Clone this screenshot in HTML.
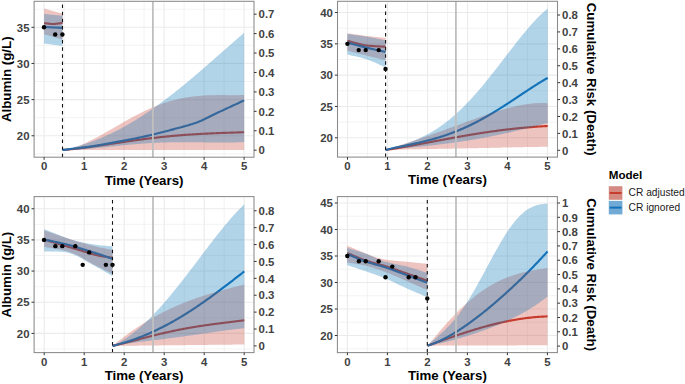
<!DOCTYPE html>
<html><head><meta charset="utf-8"><style>
html,body{margin:0;padding:0;background:#fff;}
svg{display:block;}
text{font-family:"Liberation Sans",sans-serif;}
.tk{font-size:11.4px;font-weight:bold;fill:#424242;}
.ti{font-size:13.3px;font-weight:bold;fill:#000;}
.lt{font-size:11.6px;font-weight:bold;fill:#000;}
.ll{font-size:10.2px;fill:#1a1a1a;}
</style></head><body>
<svg width="685" height="384" viewBox="0 0 685 384">
<rect width="685" height="384" fill="#fff"/>
<clipPath id="cp0"><rect x="34.1" y="1.3" width="219.9" height="155.89999999999998"/></clipPath>
<rect x="34.1" y="1.3" width="219.9" height="155.89999999999998" fill="#fff"/>
<g clip-path="url(#cp0)">
<line x1="64.10" y1="1.3" x2="64.10" y2="157.2" stroke="#ebebeb" stroke-width="0.6"/>
<line x1="104.10" y1="1.3" x2="104.10" y2="157.2" stroke="#ebebeb" stroke-width="0.6"/>
<line x1="144.10" y1="1.3" x2="144.10" y2="157.2" stroke="#ebebeb" stroke-width="0.6"/>
<line x1="184.10" y1="1.3" x2="184.10" y2="157.2" stroke="#ebebeb" stroke-width="0.6"/>
<line x1="224.10" y1="1.3" x2="224.10" y2="157.2" stroke="#ebebeb" stroke-width="0.6"/>
<line x1="34.1" y1="153.83" x2="254.0" y2="153.83" stroke="#ebebeb" stroke-width="0.6"/>
<line x1="34.1" y1="117.67" x2="254.0" y2="117.67" stroke="#ebebeb" stroke-width="0.6"/>
<line x1="34.1" y1="81.53" x2="254.0" y2="81.53" stroke="#ebebeb" stroke-width="0.6"/>
<line x1="34.1" y1="45.38" x2="254.0" y2="45.38" stroke="#ebebeb" stroke-width="0.6"/>
<line x1="34.1" y1="9.22" x2="254.0" y2="9.22" stroke="#ebebeb" stroke-width="0.6"/>
<line x1="44.10" y1="1.3" x2="44.10" y2="157.2" stroke="#ebebeb" stroke-width="1.1"/>
<line x1="84.10" y1="1.3" x2="84.10" y2="157.2" stroke="#ebebeb" stroke-width="1.1"/>
<line x1="124.10" y1="1.3" x2="124.10" y2="157.2" stroke="#ebebeb" stroke-width="1.1"/>
<line x1="164.10" y1="1.3" x2="164.10" y2="157.2" stroke="#ebebeb" stroke-width="1.1"/>
<line x1="204.10" y1="1.3" x2="204.10" y2="157.2" stroke="#ebebeb" stroke-width="1.1"/>
<line x1="244.10" y1="1.3" x2="244.10" y2="157.2" stroke="#ebebeb" stroke-width="1.1"/>
<line x1="34.1" y1="135.75" x2="254.0" y2="135.75" stroke="#ebebeb" stroke-width="1.1"/>
<line x1="34.1" y1="99.60" x2="254.0" y2="99.60" stroke="#ebebeb" stroke-width="1.1"/>
<line x1="34.1" y1="63.45" x2="254.0" y2="63.45" stroke="#ebebeb" stroke-width="1.1"/>
<line x1="34.1" y1="27.30" x2="254.0" y2="27.30" stroke="#ebebeb" stroke-width="1.1"/>
<path d="M44.10,23.10 L45.21,23.22 L46.33,23.37 L47.44,23.52 L48.55,23.66 L49.66,23.79 L50.77,23.90 L51.89,23.97 L53.00,24.00 L54.06,23.97 L55.11,23.90 L56.17,23.80 L57.22,23.66 L58.28,23.51 L59.33,23.35 L60.39,23.19 L61.44,23.03 L62.50,22.90" fill="none" stroke="#c83c2d" stroke-width="2.15" stroke-linejoin="round" stroke-linecap="butt"/>
<path d="M62.60,150.00 L63.60,149.92 L64.60,149.84 L65.60,149.75 L66.60,149.66 L67.60,149.57 L68.60,149.48 L69.60,149.38 L70.60,149.28 L71.60,149.18 L72.60,149.07 L73.60,148.97 L74.60,148.86 L75.60,148.74 L76.60,148.63 L77.60,148.51 L78.60,148.39 L79.60,148.27 L80.60,148.15 L81.60,148.03 L82.60,147.90 L83.60,147.77 L84.60,147.64 L85.60,147.51 L86.60,147.38 L87.60,147.25 L88.60,147.11 L89.60,146.97 L90.60,146.84 L91.60,146.70 L92.60,146.56 L93.60,146.42 L94.60,146.27 L95.60,146.13 L96.60,145.99 L97.60,145.84 L98.60,145.70 L99.60,145.55 L100.60,145.40 L101.60,145.26 L102.60,145.11 L103.60,144.96 L104.60,144.81 L105.60,144.66 L106.60,144.51 L107.60,144.36 L108.60,144.21 L109.60,144.06 L110.60,143.91 L111.60,143.76 L112.60,143.61 L113.60,143.46 L114.60,143.31 L115.60,143.16 L116.60,143.01 L117.60,142.86 L118.60,142.72 L119.60,142.57 L120.60,142.42 L121.60,142.27 L122.60,142.12 L123.60,141.97 L124.60,141.83 L125.60,141.68 L126.60,141.54 L127.60,141.39 L128.60,141.25 L129.60,141.10 L130.60,140.96 L131.60,140.82 L132.60,140.68 L133.60,140.54 L134.60,140.40 L135.60,140.26 L136.60,140.12 L137.60,139.98 L138.60,139.85 L139.60,139.71 L140.60,139.58 L141.60,139.44 L142.60,139.31 L143.60,139.18 L144.60,139.05 L145.60,138.92 L146.60,138.79 L147.60,138.67 L148.60,138.54 L149.60,138.42 L150.60,138.30 L151.60,138.18 L152.60,138.06 L153.60,137.94 L154.60,137.82 L155.60,137.70 L156.60,137.59 L157.60,137.47 L158.60,137.36 L159.60,137.25 L160.60,137.14 L161.60,137.03 L162.60,136.93 L163.60,136.82 L164.60,136.72 L165.60,136.61 L166.60,136.51 L167.60,136.41 L168.60,136.32 L169.60,136.22 L170.60,136.12 L171.60,136.03 L172.60,135.94 L173.60,135.85 L174.60,135.76 L175.60,135.67 L176.60,135.58 L177.60,135.50 L178.60,135.41 L179.60,135.33 L180.60,135.25 L181.60,135.17 L182.60,135.09 L183.60,135.01 L184.60,134.94 L185.60,134.86 L186.60,134.79 L187.60,134.72 L188.60,134.65 L189.60,134.58 L190.60,134.51 L191.60,134.45 L192.60,134.38 L193.60,134.32 L194.60,134.26 L195.60,134.20 L196.60,134.14 L197.60,134.08 L198.60,134.02 L199.60,133.97 L200.60,133.91 L201.60,133.86 L202.60,133.80 L203.60,133.75 L204.60,133.70 L205.60,133.65 L206.60,133.60 L207.60,133.56 L208.60,133.51 L209.60,133.46 L210.60,133.42 L211.60,133.38 L212.60,133.33 L213.60,133.29 L214.60,133.25 L215.60,133.21 L216.60,133.17 L217.60,133.13 L218.60,133.09 L219.60,133.05 L220.60,133.01 L221.60,132.98 L222.60,132.94 L223.60,132.91 L224.60,132.87 L225.60,132.84 L226.60,132.80 L227.60,132.77 L228.60,132.73 L229.60,132.70 L230.60,132.66 L231.60,132.63 L232.60,132.60 L233.60,132.56 L234.60,132.53 L235.60,132.50 L236.60,132.46 L237.60,132.43 L238.60,132.39 L239.60,132.36 L240.60,132.33 L241.60,132.29 L242.60,132.25 L243.60,132.22 L244.10,132.20" fill="none" stroke="#c83c2d" stroke-width="2.15" stroke-linejoin="round" stroke-linecap="butt"/>
<path d="M44.10,27.00 L62.50,27.90" fill="none" stroke="#1471bb" stroke-width="2.15" stroke-linejoin="round" stroke-linecap="butt"/>
<path d="M62.60,150.00 L63.61,149.87 L64.63,149.75 L65.64,149.63 L66.66,149.51 L67.67,149.39 L68.69,149.27 L69.70,149.15 L70.72,149.03 L71.73,148.91 L72.75,148.79 L73.76,148.67 L74.78,148.55 L75.79,148.43 L76.81,148.31 L77.82,148.19 L78.84,148.07 L79.85,147.94 L80.87,147.82 L81.88,147.69 L82.90,147.56 L83.91,147.43 L84.93,147.30 L85.94,147.17 L86.96,147.03 L87.97,146.89 L88.99,146.75 L90.00,146.60 L91.00,146.45 L92.00,146.30 L93.00,146.15 L94.00,145.99 L95.00,145.83 L96.00,145.67 L97.00,145.50 L98.00,145.33 L99.00,145.16 L100.00,144.98 L101.00,144.81 L102.00,144.63 L103.00,144.45 L104.00,144.27 L105.00,144.09 L106.00,143.91 L107.00,143.72 L108.00,143.54 L109.00,143.35 L110.00,143.16 L111.00,142.98 L112.00,142.79 L113.00,142.61 L114.00,142.42 L115.00,142.23 L116.00,142.05 L117.00,141.86 L118.00,141.68 L119.00,141.50 L120.00,141.32 L121.00,141.14 L122.00,140.96 L123.00,140.78 L124.00,140.60 L125.00,140.41 L126.00,140.23 L127.00,140.05 L128.00,139.86 L129.00,139.67 L130.00,139.48 L131.00,139.29 L132.00,139.10 L133.00,138.90 L134.00,138.70 L135.00,138.50 L136.00,138.29 L137.00,138.09 L138.00,137.88 L139.00,137.67 L140.00,137.45 L141.00,137.24 L142.00,137.02 L143.00,136.80 L144.00,136.58 L145.00,136.35 L146.00,136.13 L147.00,135.90 L148.00,135.67 L149.00,135.44 L150.00,135.20 L151.00,134.97 L152.00,134.73 L153.00,134.49 L154.00,134.25 L155.00,134.00 L156.00,133.76 L157.00,133.51 L158.00,133.26 L159.00,133.01 L160.00,132.76 L161.00,132.51 L162.00,132.25 L163.00,132.00 L164.00,131.74 L165.00,131.48 L166.00,131.22 L167.00,130.96 L168.00,130.70 L169.00,130.43 L170.00,130.17 L171.00,129.90 L172.00,129.64 L173.00,129.37 L174.00,129.10 L175.03,128.82 L176.06,128.55 L177.09,128.28 L178.11,128.01 L179.14,127.74 L180.17,127.47 L181.20,127.20 L182.23,126.92 L183.26,126.65 L184.29,126.37 L185.31,126.08 L186.34,125.80 L187.37,125.50 L188.40,125.21 L189.43,124.90 L190.46,124.59 L191.49,124.27 L192.51,123.94 L193.54,123.60 L194.57,123.26 L195.60,122.90 L196.62,122.53 L197.63,122.15 L198.65,121.75 L199.67,121.33 L200.68,120.90 L201.70,120.45 L202.72,120.00 L203.73,119.53 L204.75,119.06 L205.77,118.58 L206.78,118.09 L207.80,117.59 L208.82,117.09 L209.83,116.58 L210.85,116.08 L211.87,115.57 L212.88,115.06 L213.90,114.55 L214.92,114.05 L215.93,113.55 L216.95,113.05 L217.97,112.56 L218.98,112.08 L220.00,111.60 L221.00,111.13 L222.01,110.67 L223.01,110.20 L224.02,109.74 L225.02,109.27 L226.03,108.80 L227.03,108.34 L228.03,107.87 L229.04,107.40 L230.04,106.94 L231.05,106.47 L232.05,106.00 L233.05,105.54 L234.06,105.07 L235.06,104.60 L236.07,104.13 L237.07,103.67 L238.07,103.20 L239.08,102.73 L240.08,102.27 L241.09,101.80 L242.09,101.33 L243.10,100.87 L244.10,100.40" fill="none" stroke="#1471bb" stroke-width="2.15" stroke-linejoin="round" stroke-linecap="butt"/>
<path d="M44.10,8.50 L62.50,13.80 L62.50,39.60 L44.10,34.30 Z" fill="#c83c2d" fill-opacity="0.3"/>
<path d="M62.60,150.00 L63.60,149.88 L64.60,149.73 L65.60,149.57 L66.60,149.39 L67.60,149.19 L68.60,148.97 L69.60,148.74 L70.60,148.48 L71.60,148.22 L72.60,147.93 L73.60,147.63 L74.60,147.32 L75.60,146.99 L76.60,146.65 L77.60,146.29 L78.60,145.92 L79.60,145.54 L80.60,145.14 L81.60,144.74 L82.60,144.32 L83.60,143.89 L84.60,143.45 L85.60,143.00 L86.60,142.55 L87.60,142.08 L88.60,141.60 L89.60,141.12 L90.60,140.62 L91.60,140.12 L92.60,139.61 L93.60,139.10 L94.60,138.58 L95.60,138.05 L96.60,137.51 L97.60,136.98 L98.60,136.43 L99.60,135.88 L100.60,135.33 L101.60,134.77 L102.60,134.21 L103.60,133.65 L104.60,133.08 L105.60,132.51 L106.60,131.94 L107.60,131.36 L108.60,130.78 L109.60,130.21 L110.60,129.63 L111.60,129.05 L112.60,128.46 L113.60,127.88 L114.60,127.30 L115.60,126.72 L116.60,126.14 L117.60,125.56 L118.60,124.98 L119.60,124.40 L120.60,123.83 L121.60,123.25 L122.60,122.68 L123.60,122.11 L124.60,121.54 L125.60,120.98 L126.60,120.42 L127.60,119.86 L128.60,119.30 L129.60,118.75 L130.60,118.20 L131.60,117.65 L132.60,117.11 L133.60,116.58 L134.60,116.05 L135.60,115.52 L136.60,115.00 L137.60,114.48 L138.60,113.97 L139.60,113.46 L140.60,112.96 L141.60,112.46 L142.60,111.97 L143.60,111.49 L144.60,111.01 L145.60,110.54 L146.60,110.07 L147.60,109.61 L148.60,109.16 L149.60,108.71 L150.60,108.27 L151.60,107.84 L152.60,107.42 L153.60,107.00 L154.60,106.58 L155.60,106.18 L156.60,105.78 L157.60,105.39 L158.60,105.01 L159.60,104.63 L160.60,104.27 L161.60,103.91 L162.60,103.55 L163.60,103.21 L164.60,102.87 L165.60,102.54 L166.60,102.22 L167.60,101.90 L168.60,101.60 L169.60,101.30 L170.60,101.01 L171.60,100.72 L172.60,100.45 L173.60,100.18 L174.60,99.92 L175.60,99.67 L176.60,99.42 L177.60,99.19 L178.60,98.96 L179.60,98.74 L180.60,98.52 L181.60,98.32 L182.60,98.12 L183.60,97.93 L184.60,97.74 L185.60,97.56 L186.60,97.39 L187.60,97.23 L188.60,97.08 L189.60,96.93 L190.60,96.79 L191.60,96.65 L192.60,96.52 L193.60,96.40 L194.60,96.29 L195.60,96.18 L196.60,96.08 L197.60,95.98 L198.60,95.89 L199.60,95.80 L200.60,95.73 L201.60,95.65 L202.60,95.59 L203.60,95.52 L204.60,95.47 L205.60,95.41 L206.60,95.37 L207.60,95.32 L208.60,95.29 L209.60,95.25 L210.60,95.22 L211.60,95.20 L212.60,95.17 L213.60,95.15 L214.60,95.14 L215.60,95.13 L216.60,95.12 L217.60,95.11 L218.60,95.10 L219.60,95.10 L220.60,95.10 L221.60,95.10 L222.60,95.11 L223.60,95.11 L224.60,95.12 L225.60,95.12 L226.60,95.13 L227.60,95.13 L228.60,95.14 L229.60,95.15 L230.60,95.15 L231.60,95.16 L232.60,95.16 L233.60,95.16 L234.60,95.16 L235.60,95.16 L236.60,95.15 L237.60,95.15 L238.60,95.14 L239.60,95.12 L240.60,95.10 L241.60,95.08 L242.60,95.06 L243.60,95.02 L244.10,95.01 L244.10,150.00 L243.10,150.00 L242.10,150.00 L241.10,150.00 L240.10,150.00 L239.10,150.00 L238.10,149.99 L237.09,149.99 L236.09,149.99 L235.09,149.99 L234.09,149.99 L233.09,149.99 L232.09,149.99 L231.09,149.99 L230.09,149.99 L229.09,149.99 L228.09,149.99 L227.09,149.98 L226.09,149.98 L225.08,149.98 L224.08,149.98 L223.08,149.98 L222.08,149.98 L221.08,149.98 L220.08,149.98 L219.08,149.98 L218.08,149.98 L217.08,149.97 L216.08,149.97 L215.08,149.97 L214.08,149.97 L213.08,149.97 L212.07,149.97 L211.07,149.97 L210.07,149.97 L209.07,149.97 L208.07,149.97 L207.07,149.96 L206.07,149.96 L205.07,149.96 L204.07,149.96 L203.07,149.96 L202.07,149.96 L201.07,149.96 L200.06,149.96 L199.06,149.96 L198.06,149.95 L197.06,149.95 L196.06,149.95 L195.06,149.95 L194.06,149.95 L193.06,149.95 L192.06,149.95 L191.06,149.95 L190.06,149.95 L189.06,149.95 L188.06,149.94 L187.05,149.94 L186.05,149.94 L185.05,149.94 L184.05,149.94 L183.05,149.94 L182.05,149.94 L181.05,149.94 L180.05,149.94 L179.05,149.94 L178.05,149.93 L177.05,149.93 L176.05,149.93 L175.04,149.93 L174.04,149.93 L173.04,149.93 L172.04,149.93 L171.04,149.93 L170.04,149.93 L169.04,149.93 L168.04,149.92 L167.04,149.92 L166.04,149.92 L165.04,149.92 L164.04,149.92 L163.04,149.92 L162.03,149.92 L161.03,149.92 L160.03,149.92 L159.03,149.92 L158.03,149.92 L157.03,149.92 L156.03,149.91 L155.03,149.91 L154.03,149.91 L153.03,149.91 L152.03,149.91 L151.03,149.91 L150.02,149.91 L149.02,149.91 L148.02,149.91 L147.02,149.91 L146.02,149.91 L145.02,149.91 L144.02,149.91 L143.02,149.91 L142.02,149.91 L141.02,149.91 L140.02,149.91 L139.02,149.90 L138.02,149.90 L137.01,149.90 L136.01,149.90 L135.01,149.90 L134.01,149.90 L133.01,149.90 L132.01,149.90 L131.01,149.90 L130.01,149.90 L129.01,149.90 L128.01,149.90 L127.01,149.90 L126.01,149.90 L125.00,149.90 L124.00,149.90 L123.00,149.90 L122.00,149.90 L121.00,149.90 L120.00,149.90 L119.00,149.90 L117.99,149.90 L116.99,149.90 L115.98,149.90 L114.97,149.90 L113.96,149.90 L112.96,149.90 L111.95,149.90 L110.94,149.90 L109.94,149.90 L108.93,149.91 L107.92,149.91 L106.91,149.91 L105.91,149.91 L104.90,149.91 L103.89,149.91 L102.89,149.91 L101.88,149.92 L100.87,149.92 L99.86,149.92 L98.86,149.92 L97.85,149.92 L96.84,149.92 L95.84,149.93 L94.83,149.93 L93.82,149.93 L92.81,149.93 L91.81,149.94 L90.80,149.94 L89.79,149.94 L88.79,149.94 L87.78,149.94 L86.77,149.95 L85.76,149.95 L84.76,149.95 L83.75,149.95 L82.74,149.96 L81.74,149.96 L80.73,149.96 L79.72,149.96 L78.71,149.97 L77.71,149.97 L76.70,149.97 L75.69,149.97 L74.69,149.97 L73.68,149.98 L72.67,149.98 L71.66,149.98 L70.66,149.98 L69.65,149.99 L68.64,149.99 L67.64,149.99 L66.63,149.99 L65.62,149.99 L64.61,150.00 L63.61,150.00 L62.60,150.00 Z" fill="#c83c2d" fill-opacity="0.3"/>
<path d="M44.10,14.10 L62.50,15.80 L62.50,45.90 L44.10,43.50 Z" fill="#0f78b9" fill-opacity="0.32"/>
<path d="M62.60,150.00 L63.60,149.79 L64.60,149.57 L65.60,149.35 L66.60,149.12 L67.60,148.89 L68.60,148.65 L69.60,148.41 L70.60,148.16 L71.60,147.90 L72.60,147.64 L73.60,147.38 L74.60,147.11 L75.60,146.83 L76.60,146.55 L77.60,146.27 L78.60,145.98 L79.60,145.68 L80.60,145.38 L81.60,145.07 L82.60,144.75 L83.60,144.43 L84.60,144.11 L85.60,143.78 L86.60,143.44 L87.60,143.10 L88.60,142.75 L89.60,142.40 L90.60,142.04 L91.60,141.68 L92.60,141.31 L93.60,140.93 L94.60,140.55 L95.60,140.16 L96.60,139.77 L97.60,139.37 L98.60,138.97 L99.60,138.56 L100.60,138.14 L101.60,137.72 L102.60,137.29 L103.60,136.86 L104.60,136.42 L105.60,135.98 L106.60,135.53 L107.60,135.07 L108.60,134.61 L109.60,134.14 L110.60,133.67 L111.60,133.19 L112.60,132.71 L113.60,132.22 L114.60,131.72 L115.60,131.22 L116.60,130.71 L117.60,130.20 L118.60,129.68 L119.60,129.16 L120.60,128.63 L121.60,128.09 L122.60,127.55 L123.60,127.01 L124.60,126.45 L125.60,125.90 L126.60,125.33 L127.60,124.77 L128.60,124.19 L129.60,123.61 L130.60,123.03 L131.60,122.44 L132.60,121.84 L133.60,121.24 L134.60,120.63 L135.60,120.02 L136.60,119.41 L137.60,118.78 L138.60,118.16 L139.60,117.52 L140.60,116.89 L141.60,116.24 L142.60,115.59 L143.60,114.94 L144.60,114.28 L145.60,113.62 L146.60,112.95 L147.60,112.28 L148.60,111.60 L149.60,110.92 L150.60,110.23 L151.60,109.54 L152.60,108.84 L153.60,108.14 L154.60,107.43 L155.60,106.72 L156.60,106.01 L157.60,105.28 L158.60,104.56 L159.60,103.83 L160.60,103.10 L161.60,102.36 L162.60,101.62 L163.60,100.87 L164.60,100.12 L165.60,99.37 L166.60,98.61 L167.60,97.84 L168.60,97.08 L169.60,96.31 L170.60,95.53 L171.60,94.75 L172.60,93.97 L173.60,93.18 L174.60,92.40 L175.60,91.60 L176.60,90.81 L177.60,90.00 L178.60,89.20 L179.60,88.39 L180.60,87.58 L181.60,86.77 L182.60,85.95 L183.60,85.13 L184.60,84.31 L185.60,83.49 L186.60,82.66 L187.60,81.83 L188.60,80.99 L189.60,80.16 L190.60,79.32 L191.60,78.48 L192.60,77.63 L193.60,76.78 L194.60,75.94 L195.60,75.08 L196.60,74.23 L197.60,73.38 L198.60,72.52 L199.60,71.66 L200.60,70.80 L201.60,69.94 L202.60,69.07 L203.60,68.20 L204.60,67.34 L205.60,66.47 L206.60,65.60 L207.60,64.73 L208.60,63.85 L209.60,62.98 L210.60,62.11 L211.60,61.23 L212.60,60.35 L213.60,59.48 L214.60,58.60 L215.60,57.72 L216.60,56.84 L217.60,55.96 L218.60,55.08 L219.60,54.20 L220.60,53.33 L221.60,52.45 L222.60,51.57 L223.60,50.69 L224.60,49.81 L225.60,48.93 L226.60,48.05 L227.60,47.18 L228.60,46.30 L229.60,45.43 L230.60,44.55 L231.60,43.68 L232.60,42.81 L233.60,41.93 L234.60,41.07 L235.60,40.20 L236.60,39.33 L237.60,38.47 L238.60,37.60 L239.60,36.74 L240.60,35.89 L241.60,35.03 L242.60,34.17 L243.60,33.32 L244.10,32.90 L244.10,142.00 L243.60,142.03 L242.60,142.09 L241.60,142.14 L240.60,142.19 L239.60,142.24 L238.60,142.29 L237.60,142.32 L236.60,142.36 L235.60,142.39 L234.60,142.42 L233.60,142.45 L232.60,142.47 L231.60,142.49 L230.60,142.51 L229.60,142.53 L228.60,142.54 L227.60,142.55 L226.60,142.56 L225.60,142.56 L224.60,142.57 L223.60,142.57 L222.60,142.57 L221.60,142.57 L220.60,142.56 L219.60,142.56 L218.60,142.55 L217.60,142.55 L216.60,142.54 L215.60,142.53 L214.60,142.52 L213.60,142.51 L212.60,142.49 L211.60,142.48 L210.60,142.47 L209.60,142.45 L208.60,142.44 L207.60,142.43 L206.60,142.41 L205.60,142.40 L204.60,142.38 L203.60,142.37 L202.60,142.35 L201.60,142.34 L200.60,142.32 L199.60,142.31 L198.60,142.30 L197.60,142.28 L196.60,142.27 L195.60,142.26 L194.60,142.25 L193.60,142.24 L192.60,142.23 L191.60,142.22 L190.60,142.21 L189.60,142.20 L188.60,142.20 L187.60,142.19 L186.60,142.19 L185.60,142.18 L184.60,142.18 L183.60,142.18 L182.60,142.18 L181.60,142.19 L180.60,142.19 L179.60,142.20 L178.60,142.20 L177.60,142.21 L176.60,142.22 L175.60,142.23 L174.60,142.24 L173.60,142.26 L172.60,142.28 L171.60,142.29 L170.60,142.31 L169.60,142.33 L168.60,142.36 L167.60,142.38 L166.60,142.41 L165.60,142.44 L164.60,142.47 L163.60,142.50 L162.60,142.54 L161.60,142.57 L160.60,142.61 L159.60,142.65 L158.60,142.69 L157.60,142.74 L156.60,142.78 L155.60,142.83 L154.60,142.88 L153.60,142.93 L152.60,142.98 L151.60,143.04 L150.60,143.09 L149.60,143.15 L148.60,143.21 L147.60,143.28 L146.60,143.34 L145.60,143.41 L144.60,143.48 L143.60,143.55 L142.60,143.62 L141.60,143.69 L140.60,143.76 L139.60,143.84 L138.60,143.92 L137.60,144.00 L136.60,144.08 L135.60,144.16 L134.60,144.25 L133.60,144.33 L132.60,144.42 L131.60,144.51 L130.60,144.60 L129.60,144.69 L128.60,144.78 L127.60,144.88 L126.60,144.97 L125.60,145.07 L124.60,145.17 L123.60,145.27 L122.60,145.36 L121.60,145.46 L120.60,145.57 L119.60,145.67 L118.60,145.77 L117.60,145.87 L116.60,145.98 L115.60,146.08 L114.60,146.19 L113.60,146.29 L112.60,146.40 L111.60,146.50 L110.60,146.61 L109.60,146.71 L108.60,146.82 L107.60,146.93 L106.60,147.03 L105.60,147.14 L104.60,147.24 L103.60,147.35 L102.60,147.45 L101.60,147.56 L100.60,147.66 L99.60,147.76 L98.60,147.86 L97.60,147.96 L96.60,148.06 L95.60,148.16 L94.60,148.26 L93.60,148.35 L92.60,148.45 L91.60,148.54 L90.60,148.63 L89.60,148.72 L88.60,148.81 L87.60,148.89 L86.60,148.98 L85.60,149.06 L84.60,149.14 L83.60,149.21 L82.60,149.29 L81.60,149.36 L80.60,149.42 L79.60,149.49 L78.60,149.55 L77.60,149.61 L76.60,149.66 L75.60,149.71 L74.60,149.76 L73.60,149.81 L72.60,149.85 L71.60,149.88 L70.60,149.91 L69.60,149.94 L68.60,149.97 L67.60,149.98 L66.60,150.00 L65.60,150.01 L64.60,150.01 L63.60,150.01 L62.60,150.00 Z" fill="#0f78b9" fill-opacity="0.32"/>
<circle cx="44.00" cy="27.30" r="2.2" fill="#000"/>
<circle cx="55.20" cy="34.53" r="2.2" fill="#000"/>
<circle cx="62.40" cy="34.53" r="2.2" fill="#000"/>
<line x1="62.50" y1="157.2" x2="62.50" y2="1.3" stroke="#111" stroke-width="1.1" stroke-dasharray="3.5 3.6"/>
<line x1="152.90" y1="1.3" x2="152.90" y2="157.2" stroke="#bfbfbf" stroke-width="1.8"/>
</g>
<rect x="34.1" y="1.3" width="219.9" height="155.89999999999998" fill="none" stroke="#8a8a8a" stroke-width="1.05"/>
<line x1="31.50" y1="135.75" x2="34.1" y2="135.75" stroke="#333" stroke-width="1"/>
<text x="29.50" y="139.95" class="tk" text-anchor="end">20</text>
<line x1="31.50" y1="99.60" x2="34.1" y2="99.60" stroke="#333" stroke-width="1"/>
<text x="29.50" y="103.80" class="tk" text-anchor="end">25</text>
<line x1="31.50" y1="63.45" x2="34.1" y2="63.45" stroke="#333" stroke-width="1"/>
<text x="29.50" y="67.65" class="tk" text-anchor="end">30</text>
<line x1="31.50" y1="27.30" x2="34.1" y2="27.30" stroke="#333" stroke-width="1"/>
<text x="29.50" y="31.50" class="tk" text-anchor="end">35</text>
<line x1="254.0" y1="150.20" x2="256.60" y2="150.20" stroke="#333" stroke-width="1"/>
<text x="258.60" y="154.40" class="tk">0</text>
<line x1="254.0" y1="130.77" x2="256.60" y2="130.77" stroke="#333" stroke-width="1"/>
<text x="258.60" y="134.97" class="tk">0.1</text>
<line x1="254.0" y1="111.34" x2="256.60" y2="111.34" stroke="#333" stroke-width="1"/>
<text x="258.60" y="115.54" class="tk">0.2</text>
<line x1="254.0" y1="91.91" x2="256.60" y2="91.91" stroke="#333" stroke-width="1"/>
<text x="258.60" y="96.11" class="tk">0.3</text>
<line x1="254.0" y1="72.48" x2="256.60" y2="72.48" stroke="#333" stroke-width="1"/>
<text x="258.60" y="76.68" class="tk">0.4</text>
<line x1="254.0" y1="53.05" x2="256.60" y2="53.05" stroke="#333" stroke-width="1"/>
<text x="258.60" y="57.25" class="tk">0.5</text>
<line x1="254.0" y1="33.62" x2="256.60" y2="33.62" stroke="#333" stroke-width="1"/>
<text x="258.60" y="37.82" class="tk">0.6</text>
<line x1="254.0" y1="14.19" x2="256.60" y2="14.19" stroke="#333" stroke-width="1"/>
<text x="258.60" y="18.39" class="tk">0.7</text>
<line x1="44.10" y1="157.2" x2="44.10" y2="159.80" stroke="#333" stroke-width="1"/>
<text x="44.10" y="170.10" class="tk" text-anchor="middle">0</text>
<line x1="84.10" y1="157.2" x2="84.10" y2="159.80" stroke="#333" stroke-width="1"/>
<text x="84.10" y="170.10" class="tk" text-anchor="middle">1</text>
<line x1="124.10" y1="157.2" x2="124.10" y2="159.80" stroke="#333" stroke-width="1"/>
<text x="124.10" y="170.10" class="tk" text-anchor="middle">2</text>
<line x1="164.10" y1="157.2" x2="164.10" y2="159.80" stroke="#333" stroke-width="1"/>
<text x="164.10" y="170.10" class="tk" text-anchor="middle">3</text>
<line x1="204.10" y1="157.2" x2="204.10" y2="159.80" stroke="#333" stroke-width="1"/>
<text x="204.10" y="170.10" class="tk" text-anchor="middle">4</text>
<line x1="244.10" y1="157.2" x2="244.10" y2="159.80" stroke="#333" stroke-width="1"/>
<text x="244.10" y="170.10" class="tk" text-anchor="middle">5</text>
<text x="144.05" y="184.50" class="ti" text-anchor="middle">Time (Years)</text>
<text transform="translate(10.6,79.25) rotate(-90)" class="ti" text-anchor="middle">Albumin (g/L)</text>
<clipPath id="cp1"><rect x="337.5" y="1.3" width="220.0" height="155.79999999999998"/></clipPath>
<rect x="337.5" y="1.3" width="220.0" height="155.79999999999998" fill="#fff"/>
<g clip-path="url(#cp1)">
<line x1="367.50" y1="1.3" x2="367.50" y2="157.1" stroke="#ebebeb" stroke-width="0.6"/>
<line x1="407.50" y1="1.3" x2="407.50" y2="157.1" stroke="#ebebeb" stroke-width="0.6"/>
<line x1="447.50" y1="1.3" x2="447.50" y2="157.1" stroke="#ebebeb" stroke-width="0.6"/>
<line x1="487.50" y1="1.3" x2="487.50" y2="157.1" stroke="#ebebeb" stroke-width="0.6"/>
<line x1="527.50" y1="1.3" x2="527.50" y2="157.1" stroke="#ebebeb" stroke-width="0.6"/>
<line x1="337.5" y1="153.46" x2="557.5" y2="153.46" stroke="#ebebeb" stroke-width="0.6"/>
<line x1="337.5" y1="122.14" x2="557.5" y2="122.14" stroke="#ebebeb" stroke-width="0.6"/>
<line x1="337.5" y1="90.81" x2="557.5" y2="90.81" stroke="#ebebeb" stroke-width="0.6"/>
<line x1="337.5" y1="59.49" x2="557.5" y2="59.49" stroke="#ebebeb" stroke-width="0.6"/>
<line x1="337.5" y1="28.16" x2="557.5" y2="28.16" stroke="#ebebeb" stroke-width="0.6"/>
<line x1="347.50" y1="1.3" x2="347.50" y2="157.1" stroke="#ebebeb" stroke-width="1.1"/>
<line x1="387.50" y1="1.3" x2="387.50" y2="157.1" stroke="#ebebeb" stroke-width="1.1"/>
<line x1="427.50" y1="1.3" x2="427.50" y2="157.1" stroke="#ebebeb" stroke-width="1.1"/>
<line x1="467.50" y1="1.3" x2="467.50" y2="157.1" stroke="#ebebeb" stroke-width="1.1"/>
<line x1="507.50" y1="1.3" x2="507.50" y2="157.1" stroke="#ebebeb" stroke-width="1.1"/>
<line x1="547.50" y1="1.3" x2="547.50" y2="157.1" stroke="#ebebeb" stroke-width="1.1"/>
<line x1="337.5" y1="137.80" x2="557.5" y2="137.80" stroke="#ebebeb" stroke-width="1.1"/>
<line x1="337.5" y1="106.47" x2="557.5" y2="106.47" stroke="#ebebeb" stroke-width="1.1"/>
<line x1="337.5" y1="75.15" x2="557.5" y2="75.15" stroke="#ebebeb" stroke-width="1.1"/>
<line x1="337.5" y1="43.83" x2="557.5" y2="43.83" stroke="#ebebeb" stroke-width="1.1"/>
<line x1="337.5" y1="12.50" x2="557.5" y2="12.50" stroke="#ebebeb" stroke-width="1.1"/>
<path d="M347.40,40.90 L348.40,41.14 L349.40,41.39 L350.40,41.66 L351.40,41.93 L352.40,42.20 L353.40,42.48 L354.40,42.76 L355.40,43.04 L356.40,43.32 L357.40,43.59 L358.40,43.86 L359.40,44.11 L360.40,44.36 L361.40,44.59 L362.40,44.81 L363.40,45.01 L364.40,45.19 L365.40,45.35 L366.40,45.49 L367.40,45.60 L368.41,45.70 L369.42,45.78 L370.43,45.87 L371.44,45.94 L372.46,46.01 L373.47,46.08 L374.48,46.14 L375.49,46.20 L376.50,46.26 L377.51,46.31 L378.52,46.36 L379.53,46.41 L380.54,46.47 L381.56,46.52 L382.57,46.57 L383.58,46.63 L384.59,46.69 L385.60,46.75" fill="none" stroke="#c83c2d" stroke-width="2.15" stroke-linejoin="round" stroke-linecap="butt"/>
<path d="M385.60,150.00 L386.60,149.85 L387.60,149.70 L388.60,149.54 L389.60,149.39 L390.60,149.23 L391.60,149.07 L392.60,148.91 L393.60,148.74 L394.60,148.58 L395.60,148.42 L396.60,148.25 L397.60,148.08 L398.60,147.91 L399.60,147.74 L400.60,147.57 L401.60,147.39 L402.60,147.22 L403.60,147.04 L404.60,146.87 L405.60,146.69 L406.60,146.51 L407.60,146.33 L408.60,146.15 L409.60,145.97 L410.60,145.79 L411.60,145.61 L412.60,145.42 L413.60,145.24 L414.60,145.05 L415.60,144.87 L416.60,144.68 L417.60,144.50 L418.60,144.31 L419.60,144.12 L420.60,143.94 L421.60,143.75 L422.60,143.56 L423.60,143.37 L424.60,143.18 L425.60,142.99 L426.60,142.80 L427.60,142.61 L428.60,142.42 L429.60,142.23 L430.60,142.04 L431.60,141.86 L432.60,141.67 L433.60,141.48 L434.60,141.29 L435.60,141.10 L436.60,140.91 L437.60,140.72 L438.60,140.53 L439.60,140.34 L440.60,140.15 L441.60,139.96 L442.60,139.78 L443.60,139.59 L444.60,139.40 L445.60,139.21 L446.60,139.03 L447.60,138.84 L448.60,138.66 L449.60,138.47 L450.60,138.29 L451.60,138.10 L452.60,137.92 L453.60,137.74 L454.60,137.56 L455.60,137.38 L456.60,137.20 L457.60,137.02 L458.60,136.84 L459.60,136.66 L460.60,136.48 L461.60,136.31 L462.60,136.13 L463.60,135.96 L464.60,135.78 L465.60,135.61 L466.60,135.44 L467.60,135.27 L468.60,135.10 L469.60,134.93 L470.60,134.76 L471.60,134.59 L472.60,134.43 L473.60,134.26 L474.60,134.10 L475.60,133.94 L476.60,133.78 L477.60,133.62 L478.60,133.46 L479.60,133.30 L480.60,133.14 L481.60,132.99 L482.60,132.83 L483.60,132.68 L484.60,132.53 L485.60,132.38 L486.60,132.23 L487.60,132.08 L488.60,131.94 L489.60,131.79 L490.60,131.65 L491.60,131.51 L492.60,131.36 L493.60,131.23 L494.60,131.09 L495.60,130.95 L496.60,130.82 L497.60,130.68 L498.60,130.55 L499.60,130.42 L500.60,130.29 L501.60,130.16 L502.60,130.04 L503.60,129.91 L504.60,129.79 L505.60,129.67 L506.60,129.55 L507.60,129.43 L508.60,129.31 L509.60,129.20 L510.60,129.08 L511.60,128.97 L512.60,128.86 L513.60,128.75 L514.60,128.64 L515.60,128.54 L516.60,128.43 L517.60,128.33 L518.60,128.23 L519.60,128.13 L520.60,128.03 L521.60,127.93 L522.60,127.84 L523.60,127.75 L524.60,127.66 L525.60,127.57 L526.60,127.48 L527.60,127.39 L528.60,127.31 L529.60,127.22 L530.60,127.14 L531.60,127.06 L532.60,126.98 L533.60,126.91 L534.60,126.83 L535.60,126.76 L536.60,126.69 L537.60,126.62 L538.60,126.55 L539.60,126.48 L540.60,126.42 L541.60,126.35 L542.60,126.29 L543.60,126.23 L544.60,126.17 L545.60,126.11 L546.60,126.06 L547.60,126.00 L547.70,126.00" fill="none" stroke="#c83c2d" stroke-width="2.15" stroke-linejoin="round" stroke-linecap="butt"/>
<path d="M347.40,42.60 L348.40,42.87 L349.40,43.13 L350.40,43.40 L351.40,43.67 L352.40,43.95 L353.40,44.22 L354.40,44.49 L355.40,44.76 L356.40,45.03 L357.40,45.30 L358.40,45.57 L359.40,45.84 L360.40,46.11 L361.40,46.37 L362.40,46.64 L363.40,46.90 L364.40,47.15 L365.40,47.41 L366.40,47.65 L367.40,47.90 L368.41,48.14 L369.42,48.38 L370.43,48.62 L371.44,48.86 L372.46,49.09 L373.47,49.32 L374.48,49.54 L375.49,49.77 L376.50,49.99 L377.51,50.21 L378.52,50.44 L379.53,50.66 L380.54,50.88 L381.56,51.10 L382.57,51.32 L383.58,51.55 L384.59,51.77 L385.60,52.00" fill="none" stroke="#1471bb" stroke-width="2.15" stroke-linejoin="round" stroke-linecap="butt"/>
<path d="M385.60,150.00 L386.60,149.75 L387.60,149.50 L388.60,149.25 L389.60,149.01 L390.60,148.78 L391.60,148.54 L392.60,148.31 L393.60,148.09 L394.60,147.86 L395.60,147.64 L396.60,147.42 L397.60,147.20 L398.60,146.99 L399.60,146.77 L400.60,146.56 L401.60,146.35 L402.60,146.14 L403.60,145.93 L404.60,145.72 L405.60,145.51 L406.60,145.30 L407.60,145.09 L408.60,144.88 L409.60,144.66 L410.60,144.45 L411.60,144.24 L412.60,144.02 L413.60,143.81 L414.60,143.59 L415.60,143.37 L416.60,143.15 L417.60,142.93 L418.60,142.70 L419.60,142.47 L420.60,142.24 L421.60,142.01 L422.60,141.77 L423.60,141.53 L424.60,141.29 L425.60,141.04 L426.60,140.80 L427.60,140.54 L428.60,140.29 L429.60,140.03 L430.60,139.76 L431.60,139.49 L432.60,139.22 L433.60,138.94 L434.60,138.66 L435.60,138.38 L436.60,138.08 L437.60,137.79 L438.60,137.49 L439.60,137.18 L440.60,136.87 L441.60,136.56 L442.60,136.24 L443.60,135.91 L444.60,135.58 L445.60,135.25 L446.60,134.91 L447.60,134.56 L448.60,134.21 L449.60,133.85 L450.60,133.48 L451.60,133.11 L452.60,132.74 L453.60,132.36 L454.60,131.97 L455.60,131.58 L456.60,131.18 L457.60,130.78 L458.60,130.37 L459.60,129.95 L460.60,129.53 L461.60,129.10 L462.60,128.67 L463.60,128.23 L464.60,127.78 L465.60,127.33 L466.60,126.87 L467.60,126.41 L468.60,125.94 L469.60,125.46 L470.60,124.98 L471.60,124.49 L472.60,124.00 L473.60,123.50 L474.60,123.00 L475.60,122.49 L476.60,121.97 L477.60,121.45 L478.60,120.92 L479.60,120.39 L480.60,119.85 L481.60,119.31 L482.60,118.76 L483.60,118.21 L484.60,117.65 L485.60,117.08 L486.60,116.51 L487.60,115.94 L488.60,115.36 L489.60,114.78 L490.60,114.19 L491.60,113.60 L492.60,113.00 L493.60,112.40 L494.60,111.79 L495.60,111.18 L496.60,110.57 L497.60,109.95 L498.60,109.33 L499.60,108.70 L500.60,108.08 L501.60,107.44 L502.60,106.81 L503.60,106.17 L504.60,105.53 L505.60,104.89 L506.60,104.24 L507.60,103.59 L508.60,102.94 L509.60,102.29 L510.60,101.63 L511.60,100.97 L512.60,100.31 L513.60,99.65 L514.60,98.99 L515.60,98.33 L516.60,97.67 L517.60,97.00 L518.60,96.34 L519.60,95.67 L520.60,95.01 L521.60,94.34 L522.60,93.68 L523.60,93.02 L524.60,92.35 L525.60,91.69 L526.60,91.03 L527.60,90.37 L528.60,89.71 L529.60,89.06 L530.60,88.40 L531.60,87.75 L532.60,87.10 L533.60,86.46 L534.60,85.81 L535.60,85.17 L536.60,84.54 L537.60,83.91 L538.60,83.28 L539.60,82.66 L540.60,82.04 L541.60,81.43 L542.60,80.82 L543.60,80.22 L544.60,79.62 L545.60,79.03 L546.60,78.45 L547.60,77.87 L547.70,77.81" fill="none" stroke="#1471bb" stroke-width="2.15" stroke-linejoin="round" stroke-linecap="butt"/>
<path d="M347.40,33.30 L348.40,33.44 L349.40,33.57 L350.40,33.71 L351.40,33.85 L352.40,33.99 L353.40,34.13 L354.40,34.27 L355.40,34.41 L356.40,34.55 L357.40,34.69 L358.40,34.82 L359.40,34.96 L360.40,35.10 L361.40,35.23 L362.40,35.36 L363.40,35.50 L364.40,35.63 L365.40,35.75 L366.40,35.88 L367.40,36.00 L368.41,36.12 L369.42,36.24 L370.43,36.36 L371.44,36.47 L372.46,36.58 L373.47,36.70 L374.48,36.81 L375.49,36.92 L376.50,37.03 L377.51,37.13 L378.52,37.24 L379.53,37.35 L380.54,37.46 L381.56,37.56 L382.57,37.67 L383.58,37.78 L384.59,37.89 L385.60,38.00 L385.60,60.20 L384.59,59.96 L383.58,59.71 L382.57,59.47 L381.56,59.22 L380.54,58.98 L379.53,58.74 L378.52,58.49 L377.51,58.25 L376.50,58.01 L375.49,57.76 L374.48,57.52 L373.47,57.27 L372.46,57.03 L371.44,56.78 L370.43,56.54 L369.42,56.29 L368.41,56.05 L367.40,55.80 L366.40,55.56 L365.40,55.31 L364.40,55.06 L363.40,54.82 L362.40,54.57 L361.40,54.32 L360.40,54.08 L359.40,53.83 L358.40,53.58 L357.40,53.33 L356.40,53.08 L355.40,52.84 L354.40,52.59 L353.40,52.34 L352.40,52.09 L351.40,51.84 L350.40,51.59 L349.40,51.35 L348.40,51.10 L347.40,50.85 Z" fill="#c83c2d" fill-opacity="0.3"/>
<path d="M385.60,150.00 L386.60,149.67 L387.60,149.34 L388.60,149.01 L389.60,148.68 L390.60,148.35 L391.60,148.02 L392.60,147.69 L393.60,147.36 L394.60,147.03 L395.60,146.71 L396.60,146.38 L397.60,146.05 L398.60,145.72 L399.60,145.39 L400.60,145.06 L401.60,144.73 L402.60,144.40 L403.60,144.07 L404.60,143.74 L405.60,143.41 L406.60,143.08 L407.60,142.75 L408.60,142.42 L409.60,142.09 L410.60,141.75 L411.60,141.42 L412.60,141.08 L413.60,140.75 L414.60,140.41 L415.60,140.07 L416.60,139.74 L417.60,139.40 L418.60,139.06 L419.60,138.72 L420.60,138.37 L421.60,138.03 L422.60,137.69 L423.60,137.34 L424.60,137.00 L425.60,136.65 L426.60,136.31 L427.60,135.96 L428.60,135.61 L429.60,135.26 L430.60,134.91 L431.60,134.56 L432.60,134.20 L433.60,133.85 L434.60,133.50 L435.60,133.14 L436.60,132.78 L437.60,132.43 L438.60,132.07 L439.60,131.71 L440.60,131.35 L441.60,130.99 L442.60,130.63 L443.60,130.27 L444.60,129.91 L445.60,129.54 L446.60,129.18 L447.60,128.81 L448.60,128.45 L449.60,128.08 L450.60,127.72 L451.60,127.35 L452.60,126.98 L453.60,126.62 L454.60,126.25 L455.60,125.88 L456.60,125.51 L457.60,125.14 L458.60,124.77 L459.60,124.41 L460.60,124.04 L461.60,123.67 L462.60,123.30 L463.60,122.93 L464.60,122.56 L465.60,122.20 L466.60,121.83 L467.60,121.46 L468.60,121.10 L469.60,120.73 L470.60,120.36 L471.60,120.00 L472.60,119.64 L473.60,119.27 L474.60,118.91 L475.60,118.55 L476.60,118.19 L477.60,117.83 L478.60,117.48 L479.60,117.12 L480.60,116.77 L481.60,116.42 L482.60,116.07 L483.60,115.72 L484.60,115.37 L485.60,115.03 L486.60,114.68 L487.60,114.34 L488.60,114.01 L489.60,113.67 L490.60,113.34 L491.60,113.01 L492.60,112.68 L493.60,112.36 L494.60,112.04 L495.60,111.72 L496.60,111.40 L497.60,111.09 L498.60,110.78 L499.60,110.48 L500.60,110.18 L501.60,109.88 L502.60,109.59 L503.60,109.30 L504.60,109.02 L505.60,108.74 L506.60,108.46 L507.60,108.19 L508.60,107.93 L509.60,107.67 L510.60,107.41 L511.60,107.17 L512.60,106.92 L513.60,106.68 L514.60,106.45 L515.60,106.23 L516.60,106.01 L517.60,105.79 L518.60,105.58 L519.60,105.38 L520.60,105.19 L521.60,105.00 L522.60,104.82 L523.60,104.65 L524.60,104.49 L525.60,104.33 L526.60,104.18 L527.60,104.04 L528.60,103.91 L529.60,103.78 L530.60,103.67 L531.60,103.56 L532.60,103.46 L533.60,103.37 L534.60,103.29 L535.60,103.22 L536.60,103.16 L537.60,103.11 L538.60,103.07 L539.60,103.04 L540.60,103.02 L541.60,103.01 L542.60,103.02 L543.60,103.03 L544.60,103.05 L545.60,103.09 L546.60,103.14 L547.60,103.20 L547.70,103.21 L547.70,146.80 L547.60,146.80 L546.60,146.81 L545.60,146.81 L544.60,146.82 L543.60,146.83 L542.60,146.84 L541.60,146.85 L540.60,146.86 L539.60,146.87 L538.60,146.88 L537.60,146.90 L536.60,146.91 L535.60,146.92 L534.60,146.94 L533.60,146.95 L532.60,146.97 L531.60,146.98 L530.60,147.00 L529.60,147.02 L528.60,147.04 L527.60,147.05 L526.60,147.07 L525.60,147.09 L524.60,147.11 L523.60,147.13 L522.60,147.15 L521.60,147.17 L520.60,147.19 L519.60,147.21 L518.60,147.23 L517.60,147.25 L516.60,147.27 L515.60,147.29 L514.60,147.31 L513.60,147.34 L512.60,147.36 L511.60,147.38 L510.60,147.40 L509.60,147.42 L508.60,147.45 L507.60,147.47 L506.60,147.49 L505.60,147.52 L504.60,147.54 L503.60,147.56 L502.60,147.58 L501.60,147.61 L500.60,147.63 L499.60,147.65 L498.60,147.68 L497.60,147.70 L496.60,147.72 L495.60,147.75 L494.60,147.77 L493.60,147.79 L492.60,147.81 L491.60,147.84 L490.60,147.86 L489.60,147.88 L488.60,147.90 L487.60,147.93 L486.60,147.95 L485.60,147.97 L484.60,147.99 L483.60,148.02 L482.60,148.04 L481.60,148.06 L480.60,148.08 L479.60,148.10 L478.60,148.12 L477.60,148.14 L476.60,148.17 L475.60,148.19 L474.60,148.21 L473.60,148.23 L472.60,148.25 L471.60,148.27 L470.60,148.29 L469.60,148.31 L468.60,148.33 L467.60,148.35 L466.60,148.37 L465.60,148.39 L464.60,148.41 L463.60,148.42 L462.60,148.44 L461.60,148.46 L460.60,148.48 L459.60,148.50 L458.60,148.52 L457.60,148.53 L456.60,148.55 L455.60,148.57 L454.60,148.59 L453.60,148.61 L452.60,148.62 L451.60,148.64 L450.60,148.66 L449.60,148.67 L448.60,148.69 L447.60,148.71 L446.60,148.72 L445.60,148.74 L444.60,148.76 L443.60,148.77 L442.60,148.79 L441.60,148.81 L440.60,148.82 L439.60,148.84 L438.60,148.86 L437.60,148.87 L436.60,148.89 L435.60,148.90 L434.60,148.92 L433.60,148.94 L432.60,148.95 L431.60,148.97 L430.60,148.98 L429.60,149.00 L428.60,149.02 L427.60,149.03 L426.60,149.05 L425.60,149.07 L424.60,149.08 L423.60,149.10 L422.60,149.12 L421.60,149.13 L420.60,149.15 L419.60,149.17 L418.60,149.19 L417.60,149.20 L416.60,149.22 L415.60,149.24 L414.60,149.26 L413.60,149.28 L412.60,149.30 L411.60,149.32 L410.60,149.34 L409.60,149.36 L408.60,149.38 L407.60,149.40 L406.60,149.42 L405.60,149.44 L404.60,149.46 L403.60,149.49 L402.60,149.51 L401.60,149.53 L400.60,149.56 L399.60,149.58 L398.60,149.61 L397.60,149.63 L396.60,149.66 L395.60,149.69 L394.60,149.72 L393.60,149.74 L392.60,149.77 L391.60,149.80 L390.60,149.83 L389.60,149.87 L388.60,149.90 L387.60,149.93 L386.60,149.97 L385.60,150.00 Z" fill="#c83c2d" fill-opacity="0.3"/>
<path d="M347.40,33.90 L348.40,34.04 L349.40,34.19 L350.40,34.33 L351.40,34.47 L352.40,34.61 L353.40,34.74 L354.40,34.88 L355.40,35.02 L356.40,35.16 L357.40,35.30 L358.40,35.44 L359.40,35.58 L360.40,35.72 L361.40,35.87 L362.40,36.02 L363.40,36.17 L364.40,36.32 L365.40,36.48 L366.40,36.64 L367.40,36.80 L368.41,36.97 L369.42,37.15 L370.43,37.33 L371.44,37.51 L372.46,37.70 L373.47,37.89 L374.48,38.09 L375.49,38.29 L376.50,38.49 L377.51,38.69 L378.52,38.89 L379.53,39.10 L380.54,39.30 L381.56,39.50 L382.57,39.71 L383.58,39.91 L384.59,40.10 L385.60,40.30 L385.60,67.40 L384.59,66.96 L383.58,66.51 L382.57,66.06 L381.56,65.59 L380.54,65.13 L379.53,64.66 L378.52,64.19 L377.51,63.73 L376.50,63.26 L375.49,62.81 L374.48,62.36 L373.47,61.92 L372.46,61.49 L371.44,61.08 L370.43,60.68 L369.42,60.30 L368.41,59.94 L367.40,59.60 L366.40,59.28 L365.40,58.97 L364.40,58.68 L363.40,58.39 L362.40,58.12 L361.40,57.85 L360.40,57.59 L359.40,57.33 L358.40,57.08 L357.40,56.84 L356.40,56.60 L355.40,56.36 L354.40,56.12 L353.40,55.88 L352.40,55.64 L351.40,55.40 L350.40,55.16 L349.40,54.91 L348.40,54.66 L347.40,54.40 Z" fill="#0f78b9" fill-opacity="0.32"/>
<path d="M385.60,150.00 L386.60,149.69 L387.60,149.39 L388.60,149.09 L389.60,148.79 L390.60,148.48 L391.60,148.18 L392.60,147.88 L393.60,147.58 L394.60,147.28 L395.60,146.98 L396.60,146.67 L397.60,146.36 L398.60,146.05 L399.60,145.74 L400.60,145.42 L401.60,145.10 L402.60,144.77 L403.60,144.44 L404.60,144.11 L405.60,143.77 L406.60,143.42 L407.60,143.07 L408.60,142.71 L409.60,142.34 L410.60,141.97 L411.60,141.59 L412.60,141.20 L413.60,140.80 L414.60,140.40 L415.60,139.98 L416.60,139.56 L417.60,139.13 L418.60,138.69 L419.60,138.24 L420.60,137.78 L421.60,137.31 L422.60,136.83 L423.60,136.34 L424.60,135.84 L425.60,135.32 L426.60,134.80 L427.60,134.26 L428.60,133.72 L429.60,133.16 L430.60,132.59 L431.60,132.01 L432.60,131.42 L433.60,130.81 L434.60,130.19 L435.60,129.56 L436.60,128.92 L437.60,128.26 L438.60,127.59 L439.60,126.91 L440.60,126.22 L441.60,125.51 L442.60,124.79 L443.60,124.06 L444.60,123.32 L445.60,122.56 L446.60,121.78 L447.60,121.00 L448.60,120.20 L449.60,119.39 L450.60,118.56 L451.60,117.73 L452.60,116.88 L453.60,116.01 L454.60,115.13 L455.60,114.24 L456.60,113.34 L457.60,112.43 L458.60,111.50 L459.60,110.56 L460.60,109.60 L461.60,108.64 L462.60,107.66 L463.60,106.66 L464.60,105.66 L465.60,104.65 L466.60,103.62 L467.60,102.58 L468.60,101.53 L469.60,100.46 L470.60,99.39 L471.60,98.31 L472.60,97.21 L473.60,96.10 L474.60,94.99 L475.60,93.86 L476.60,92.72 L477.60,91.57 L478.60,90.41 L479.60,89.25 L480.60,88.07 L481.60,86.88 L482.60,85.69 L483.60,84.49 L484.60,83.28 L485.60,82.06 L486.60,80.83 L487.60,79.60 L488.60,78.36 L489.60,77.11 L490.60,75.86 L491.60,74.60 L492.60,73.34 L493.60,72.07 L494.60,70.79 L495.60,69.51 L496.60,68.23 L497.60,66.94 L498.60,65.65 L499.60,64.36 L500.60,63.06 L501.60,61.76 L502.60,60.46 L503.60,59.16 L504.60,57.86 L505.60,56.56 L506.60,55.26 L507.60,53.95 L508.60,52.65 L509.60,51.35 L510.60,50.06 L511.60,48.76 L512.60,47.47 L513.60,46.18 L514.60,44.90 L515.60,43.62 L516.60,42.34 L517.60,41.07 L518.60,39.81 L519.60,38.55 L520.60,37.31 L521.60,36.06 L522.60,34.83 L523.60,33.61 L524.60,32.40 L525.60,31.19 L526.60,30.00 L527.60,28.82 L528.60,27.65 L529.60,26.49 L530.60,25.35 L531.60,24.22 L532.60,23.11 L533.60,22.01 L534.60,20.93 L535.60,19.87 L536.60,18.82 L537.60,17.79 L538.60,16.78 L539.60,15.79 L540.60,14.82 L541.60,13.87 L542.60,12.94 L543.60,12.04 L544.60,11.16 L545.60,10.30 L546.60,9.47 L547.60,8.67 L547.70,8.59 L547.70,123.00 L547.60,123.02 L546.60,123.29 L545.60,123.55 L544.60,123.81 L543.60,124.07 L542.60,124.34 L541.60,124.60 L540.60,124.86 L539.60,125.12 L538.60,125.37 L537.60,125.63 L536.60,125.89 L535.60,126.15 L534.60,126.40 L533.60,126.65 L532.60,126.91 L531.60,127.16 L530.60,127.41 L529.60,127.66 L528.60,127.91 L527.60,128.16 L526.60,128.41 L525.60,128.66 L524.60,128.90 L523.60,129.15 L522.60,129.39 L521.60,129.63 L520.60,129.87 L519.60,130.11 L518.60,130.35 L517.60,130.59 L516.60,130.82 L515.60,131.06 L514.60,131.29 L513.60,131.52 L512.60,131.75 L511.60,131.98 L510.60,132.21 L509.60,132.43 L508.60,132.66 L507.60,132.88 L506.60,133.10 L505.60,133.32 L504.60,133.54 L503.60,133.76 L502.60,133.98 L501.60,134.19 L500.60,134.40 L499.60,134.62 L498.60,134.83 L497.60,135.03 L496.60,135.24 L495.60,135.45 L494.60,135.65 L493.60,135.85 L492.60,136.05 L491.60,136.25 L490.60,136.45 L489.60,136.64 L488.60,136.84 L487.60,137.03 L486.60,137.22 L485.60,137.41 L484.60,137.60 L483.60,137.79 L482.60,137.97 L481.60,138.15 L480.60,138.34 L479.60,138.52 L478.60,138.69 L477.60,138.87 L476.60,139.05 L475.60,139.22 L474.60,139.39 L473.60,139.56 L472.60,139.73 L471.60,139.90 L470.60,140.06 L469.60,140.22 L468.60,140.39 L467.60,140.55 L466.60,140.71 L465.60,140.86 L464.60,141.02 L463.60,141.17 L462.60,141.33 L461.60,141.48 L460.60,141.63 L459.60,141.78 L458.60,141.92 L457.60,142.07 L456.60,142.21 L455.60,142.36 L454.60,142.50 L453.60,142.64 L452.60,142.77 L451.60,142.91 L450.60,143.05 L449.60,143.18 L448.60,143.31 L447.60,143.44 L446.60,143.57 L445.60,143.70 L444.60,143.83 L443.60,143.96 L442.60,144.08 L441.60,144.20 L440.60,144.33 L439.60,144.45 L438.60,144.57 L437.60,144.69 L436.60,144.80 L435.60,144.92 L434.60,145.04 L433.60,145.15 L432.60,145.26 L431.60,145.38 L430.60,145.49 L429.60,145.60 L428.60,145.71 L427.60,145.82 L426.60,145.93 L425.60,146.03 L424.60,146.14 L423.60,146.24 L422.60,146.35 L421.60,146.45 L420.60,146.56 L419.60,146.66 L418.60,146.76 L417.60,146.86 L416.60,146.96 L415.60,147.06 L414.60,147.16 L413.60,147.26 L412.60,147.36 L411.60,147.46 L410.60,147.56 L409.60,147.65 L408.60,147.75 L407.60,147.85 L406.60,147.95 L405.60,148.04 L404.60,148.14 L403.60,148.23 L402.60,148.33 L401.60,148.43 L400.60,148.52 L399.60,148.62 L398.60,148.72 L397.60,148.81 L396.60,148.91 L395.60,149.01 L394.60,149.10 L393.60,149.20 L392.60,149.30 L391.60,149.40 L390.60,149.50 L389.60,149.60 L388.60,149.70 L387.60,149.80 L386.60,149.90 L385.60,150.00 Z" fill="#0f78b9" fill-opacity="0.32"/>
<circle cx="347.40" cy="43.83" r="2.2" fill="#000"/>
<circle cx="358.70" cy="50.09" r="2.2" fill="#000"/>
<circle cx="365.70" cy="50.09" r="2.2" fill="#000"/>
<circle cx="378.70" cy="50.09" r="2.2" fill="#000"/>
<circle cx="385.50" cy="68.88" r="2.2" fill="#000"/>
<line x1="385.60" y1="157.1" x2="385.60" y2="1.3" stroke="#111" stroke-width="1.1" stroke-dasharray="3.5 3.6"/>
<line x1="455.90" y1="1.3" x2="455.90" y2="157.1" stroke="#bfbfbf" stroke-width="1.8"/>
</g>
<rect x="337.5" y="1.3" width="220.0" height="155.79999999999998" fill="none" stroke="#8a8a8a" stroke-width="1.05"/>
<line x1="334.90" y1="137.80" x2="337.5" y2="137.80" stroke="#333" stroke-width="1"/>
<text x="332.90" y="142.00" class="tk" text-anchor="end">20</text>
<line x1="334.90" y1="106.47" x2="337.5" y2="106.47" stroke="#333" stroke-width="1"/>
<text x="332.90" y="110.67" class="tk" text-anchor="end">25</text>
<line x1="334.90" y1="75.15" x2="337.5" y2="75.15" stroke="#333" stroke-width="1"/>
<text x="332.90" y="79.35" class="tk" text-anchor="end">30</text>
<line x1="334.90" y1="43.83" x2="337.5" y2="43.83" stroke="#333" stroke-width="1"/>
<text x="332.90" y="48.03" class="tk" text-anchor="end">35</text>
<line x1="334.90" y1="12.50" x2="337.5" y2="12.50" stroke="#333" stroke-width="1"/>
<text x="332.90" y="16.70" class="tk" text-anchor="end">40</text>
<line x1="557.5" y1="150.30" x2="560.10" y2="150.30" stroke="#333" stroke-width="1"/>
<text x="562.10" y="154.50" class="tk">0</text>
<line x1="557.5" y1="133.39" x2="560.10" y2="133.39" stroke="#333" stroke-width="1"/>
<text x="562.10" y="137.59" class="tk">0.1</text>
<line x1="557.5" y1="116.48" x2="560.10" y2="116.48" stroke="#333" stroke-width="1"/>
<text x="562.10" y="120.68" class="tk">0.2</text>
<line x1="557.5" y1="99.57" x2="560.10" y2="99.57" stroke="#333" stroke-width="1"/>
<text x="562.10" y="103.77" class="tk">0.3</text>
<line x1="557.5" y1="82.66" x2="560.10" y2="82.66" stroke="#333" stroke-width="1"/>
<text x="562.10" y="86.86" class="tk">0.4</text>
<line x1="557.5" y1="65.75" x2="560.10" y2="65.75" stroke="#333" stroke-width="1"/>
<text x="562.10" y="69.95" class="tk">0.5</text>
<line x1="557.5" y1="48.84" x2="560.10" y2="48.84" stroke="#333" stroke-width="1"/>
<text x="562.10" y="53.04" class="tk">0.6</text>
<line x1="557.5" y1="31.93" x2="560.10" y2="31.93" stroke="#333" stroke-width="1"/>
<text x="562.10" y="36.13" class="tk">0.7</text>
<line x1="557.5" y1="15.02" x2="560.10" y2="15.02" stroke="#333" stroke-width="1"/>
<text x="562.10" y="19.22" class="tk">0.8</text>
<line x1="347.50" y1="157.1" x2="347.50" y2="159.70" stroke="#333" stroke-width="1"/>
<text x="347.50" y="170.00" class="tk" text-anchor="middle">0</text>
<line x1="387.50" y1="157.1" x2="387.50" y2="159.70" stroke="#333" stroke-width="1"/>
<text x="387.50" y="170.00" class="tk" text-anchor="middle">1</text>
<line x1="427.50" y1="157.1" x2="427.50" y2="159.70" stroke="#333" stroke-width="1"/>
<text x="427.50" y="170.00" class="tk" text-anchor="middle">2</text>
<line x1="467.50" y1="157.1" x2="467.50" y2="159.70" stroke="#333" stroke-width="1"/>
<text x="467.50" y="170.00" class="tk" text-anchor="middle">3</text>
<line x1="507.50" y1="157.1" x2="507.50" y2="159.70" stroke="#333" stroke-width="1"/>
<text x="507.50" y="170.00" class="tk" text-anchor="middle">4</text>
<line x1="547.50" y1="157.1" x2="547.50" y2="159.70" stroke="#333" stroke-width="1"/>
<text x="547.50" y="170.00" class="tk" text-anchor="middle">5</text>
<text x="447.50" y="184.40" class="ti" text-anchor="middle">Time (Years)</text>
<text transform="translate(586.7,79.20) rotate(90)" class="ti" text-anchor="middle">Cumulative Risk (Death)</text>
<clipPath id="cp2"><rect x="34.1" y="196.6" width="219.9" height="156.00000000000003"/></clipPath>
<rect x="34.1" y="196.6" width="219.9" height="156.00000000000003" fill="#fff"/>
<g clip-path="url(#cp2)">
<line x1="64.20" y1="196.6" x2="64.20" y2="352.6" stroke="#ebebeb" stroke-width="0.6"/>
<line x1="104.20" y1="196.6" x2="104.20" y2="352.6" stroke="#ebebeb" stroke-width="0.6"/>
<line x1="144.20" y1="196.6" x2="144.20" y2="352.6" stroke="#ebebeb" stroke-width="0.6"/>
<line x1="184.20" y1="196.6" x2="184.20" y2="352.6" stroke="#ebebeb" stroke-width="0.6"/>
<line x1="224.20" y1="196.6" x2="224.20" y2="352.6" stroke="#ebebeb" stroke-width="0.6"/>
<line x1="34.1" y1="348.98" x2="254.0" y2="348.98" stroke="#ebebeb" stroke-width="0.6"/>
<line x1="34.1" y1="317.82" x2="254.0" y2="317.82" stroke="#ebebeb" stroke-width="0.6"/>
<line x1="34.1" y1="286.66" x2="254.0" y2="286.66" stroke="#ebebeb" stroke-width="0.6"/>
<line x1="34.1" y1="255.49" x2="254.0" y2="255.49" stroke="#ebebeb" stroke-width="0.6"/>
<line x1="34.1" y1="224.33" x2="254.0" y2="224.33" stroke="#ebebeb" stroke-width="0.6"/>
<line x1="44.20" y1="196.6" x2="44.20" y2="352.6" stroke="#ebebeb" stroke-width="1.1"/>
<line x1="84.20" y1="196.6" x2="84.20" y2="352.6" stroke="#ebebeb" stroke-width="1.1"/>
<line x1="124.20" y1="196.6" x2="124.20" y2="352.6" stroke="#ebebeb" stroke-width="1.1"/>
<line x1="164.20" y1="196.6" x2="164.20" y2="352.6" stroke="#ebebeb" stroke-width="1.1"/>
<line x1="204.20" y1="196.6" x2="204.20" y2="352.6" stroke="#ebebeb" stroke-width="1.1"/>
<line x1="244.20" y1="196.6" x2="244.20" y2="352.6" stroke="#ebebeb" stroke-width="1.1"/>
<line x1="34.1" y1="333.40" x2="254.0" y2="333.40" stroke="#ebebeb" stroke-width="1.1"/>
<line x1="34.1" y1="302.24" x2="254.0" y2="302.24" stroke="#ebebeb" stroke-width="1.1"/>
<line x1="34.1" y1="271.07" x2="254.0" y2="271.07" stroke="#ebebeb" stroke-width="1.1"/>
<line x1="34.1" y1="239.91" x2="254.0" y2="239.91" stroke="#ebebeb" stroke-width="1.1"/>
<line x1="34.1" y1="208.75" x2="254.0" y2="208.75" stroke="#ebebeb" stroke-width="1.1"/>
<path d="M44.20,239.60 L45.22,239.90 L46.25,240.21 L47.27,240.51 L48.30,240.81 L49.32,241.12 L50.35,241.42 L51.37,241.73 L52.39,242.03 L53.42,242.34 L54.44,242.64 L55.47,242.95 L56.49,243.25 L57.52,243.56 L58.54,243.86 L59.56,244.17 L60.59,244.47 L61.61,244.77 L62.64,245.08 L63.66,245.38 L64.68,245.69 L65.71,245.99 L66.73,246.29 L67.76,246.60 L68.78,246.90 L69.81,247.20 L70.83,247.50 L71.85,247.80 L72.88,248.10 L73.90,248.40 L74.93,248.70 L75.95,249.00 L76.98,249.30 L78.00,249.60 L79.00,249.89 L80.00,250.20 L81.00,250.50 L82.00,250.81 L83.00,251.13 L84.00,251.44 L85.00,251.76 L86.00,252.08 L87.00,252.39 L88.00,252.71 L89.00,253.02 L90.00,253.32 L91.00,253.63 L92.00,253.92 L93.00,254.21 L94.00,254.48 L95.00,254.75 L96.00,255.01 L97.00,255.25 L98.00,255.48 L99.00,255.70 L100.00,255.90 L101.04,256.09 L102.08,256.28 L103.12,256.45 L104.17,256.61 L105.21,256.76 L106.25,256.91 L107.29,257.06 L108.33,257.20 L109.38,257.35 L110.42,257.50 L111.46,257.64 L112.50,257.80" fill="none" stroke="#c83c2d" stroke-width="2.15" stroke-linejoin="round" stroke-linecap="butt"/>
<path d="M112.60,345.90 L113.60,345.67 L114.60,345.44 L115.60,345.20 L116.60,344.96 L117.60,344.72 L118.60,344.48 L119.60,344.23 L120.60,343.98 L121.60,343.73 L122.60,343.48 L123.60,343.23 L124.60,342.98 L125.60,342.72 L126.60,342.47 L127.60,342.21 L128.60,341.95 L129.60,341.69 L130.60,341.43 L131.60,341.17 L132.60,340.91 L133.60,340.65 L134.60,340.39 L135.60,340.13 L136.60,339.87 L137.60,339.61 L138.60,339.34 L139.60,339.08 L140.60,338.82 L141.60,338.56 L142.60,338.30 L143.60,338.04 L144.60,337.79 L145.60,337.53 L146.60,337.27 L147.60,337.01 L148.60,336.76 L149.60,336.51 L150.60,336.25 L151.60,336.00 L152.60,335.75 L153.60,335.50 L154.60,335.25 L155.60,335.01 L156.60,334.76 L157.60,334.52 L158.60,334.28 L159.60,334.04 L160.60,333.80 L161.60,333.56 L162.60,333.33 L163.60,333.10 L164.60,332.87 L165.60,332.64 L166.60,332.41 L167.60,332.19 L168.60,331.96 L169.60,331.74 L170.60,331.52 L171.60,331.31 L172.60,331.09 L173.60,330.88 L174.60,330.67 L175.60,330.46 L176.60,330.26 L177.60,330.06 L178.60,329.85 L179.60,329.66 L180.60,329.46 L181.60,329.26 L182.60,329.07 L183.60,328.88 L184.60,328.70 L185.60,328.51 L186.60,328.33 L187.60,328.15 L188.60,327.97 L189.60,327.79 L190.60,327.62 L191.60,327.45 L192.60,327.28 L193.60,327.11 L194.60,326.94 L195.60,326.78 L196.60,326.62 L197.60,326.46 L198.60,326.30 L199.60,326.15 L200.60,326.00 L201.60,325.84 L202.60,325.69 L203.60,325.55 L204.60,325.40 L205.60,325.26 L206.60,325.12 L207.60,324.97 L208.60,324.84 L209.60,324.70 L210.60,324.56 L211.60,324.43 L212.60,324.29 L213.60,324.16 L214.60,324.03 L215.60,323.90 L216.60,323.77 L217.60,323.65 L218.60,323.52 L219.60,323.39 L220.60,323.27 L221.60,323.14 L222.60,323.02 L223.60,322.90 L224.60,322.77 L225.60,322.65 L226.60,322.53 L227.60,322.41 L228.60,322.29 L229.60,322.16 L230.60,322.04 L231.60,321.92 L232.60,321.80 L233.60,321.67 L234.60,321.55 L235.60,321.43 L236.60,321.30 L237.60,321.17 L238.60,321.05 L239.60,320.92 L240.60,320.79 L241.60,320.66 L242.60,320.53 L243.60,320.39 L244.30,320.30" fill="none" stroke="#c83c2d" stroke-width="2.15" stroke-linejoin="round" stroke-linecap="butt"/>
<path d="M44.20,239.50 L45.23,239.73 L46.26,239.96 L47.30,240.18 L48.33,240.41 L49.36,240.63 L50.39,240.85 L51.42,241.07 L52.46,241.29 L53.49,241.51 L54.52,241.73 L55.55,241.95 L56.58,242.17 L57.62,242.40 L58.65,242.62 L59.68,242.85 L60.71,243.08 L61.74,243.31 L62.78,243.54 L63.81,243.78 L64.84,244.02 L65.87,244.27 L66.90,244.52 L67.94,244.77 L68.97,245.03 L70.00,245.30 L71.00,245.57 L72.00,245.84 L73.00,246.12 L74.00,246.41 L75.00,246.70 L76.00,247.00 L77.00,247.31 L78.00,247.62 L79.00,247.93 L80.00,248.24 L81.00,248.55 L82.00,248.87 L83.00,249.18 L84.00,249.49 L85.00,249.80 L86.00,250.11 L87.00,250.41 L88.00,250.72 L89.00,251.02 L90.00,251.33 L91.00,251.64 L92.00,251.95 L93.00,252.26 L94.00,252.57 L95.00,252.88 L96.00,253.20 L97.00,253.52 L98.00,253.84 L99.00,254.17 L100.00,254.50 L101.04,254.85 L102.08,255.20 L103.12,255.57 L104.17,255.93 L105.21,256.30 L106.25,256.67 L107.29,257.04 L108.33,257.41 L109.38,257.79 L110.42,258.16 L111.46,258.53 L112.50,258.90" fill="none" stroke="#1471bb" stroke-width="2.15" stroke-linejoin="round" stroke-linecap="butt"/>
<path d="M112.60,345.90 L113.60,345.65 L114.60,345.39 L115.60,345.13 L116.60,344.86 L117.60,344.59 L118.60,344.31 L119.60,344.03 L120.60,343.75 L121.60,343.46 L122.60,343.16 L123.60,342.86 L124.60,342.56 L125.60,342.24 L126.60,341.93 L127.60,341.61 L128.60,341.28 L129.60,340.95 L130.60,340.62 L131.60,340.27 L132.60,339.93 L133.60,339.58 L134.60,339.22 L135.60,338.86 L136.60,338.49 L137.60,338.12 L138.60,337.74 L139.60,337.35 L140.60,336.96 L141.60,336.57 L142.60,336.17 L143.60,335.77 L144.60,335.36 L145.60,334.94 L146.60,334.52 L147.60,334.09 L148.60,333.66 L149.60,333.22 L150.60,332.78 L151.60,332.33 L152.60,331.88 L153.60,331.42 L154.60,330.96 L155.60,330.49 L156.60,330.01 L157.60,329.53 L158.60,329.05 L159.60,328.56 L160.60,328.06 L161.60,327.56 L162.60,327.05 L163.60,326.54 L164.60,326.02 L165.60,325.50 L166.60,324.97 L167.60,324.44 L168.60,323.90 L169.60,323.36 L170.60,322.81 L171.60,322.26 L172.60,321.70 L173.60,321.14 L174.60,320.57 L175.60,319.99 L176.60,319.42 L177.60,318.83 L178.60,318.24 L179.60,317.65 L180.60,317.05 L181.60,316.45 L182.60,315.84 L183.60,315.23 L184.60,314.61 L185.60,313.99 L186.60,313.36 L187.60,312.73 L188.60,312.10 L189.60,311.46 L190.60,310.81 L191.60,310.16 L192.60,309.51 L193.60,308.85 L194.60,308.19 L195.60,307.53 L196.60,306.86 L197.60,306.18 L198.60,305.50 L199.60,304.82 L200.60,304.14 L201.60,303.45 L202.60,302.75 L203.60,302.06 L204.60,301.35 L205.60,300.65 L206.60,299.94 L207.60,299.23 L208.60,298.51 L209.60,297.80 L210.60,297.07 L211.60,296.35 L212.60,295.62 L213.60,294.89 L214.60,294.16 L215.60,293.42 L216.60,292.68 L217.60,291.94 L218.60,291.19 L219.60,290.45 L220.60,289.69 L221.60,288.94 L222.60,288.19 L223.60,287.43 L224.60,286.67 L225.60,285.91 L226.60,285.14 L227.60,284.38 L228.60,283.61 L229.60,282.84 L230.60,282.07 L231.60,281.30 L232.60,280.53 L233.60,279.75 L234.60,278.97 L235.60,278.20 L236.60,277.42 L237.60,276.64 L238.60,275.86 L239.60,275.08 L240.60,274.30 L241.60,273.51 L242.60,272.73 L243.60,271.95 L244.30,271.40" fill="none" stroke="#1471bb" stroke-width="2.15" stroke-linejoin="round" stroke-linecap="butt"/>
<path d="M44.20,230.50 L45.22,230.84 L46.25,231.18 L47.27,231.52 L48.30,231.86 L49.32,232.21 L50.35,232.55 L51.37,232.90 L52.39,233.25 L53.42,233.60 L54.44,233.95 L55.47,234.30 L56.49,234.64 L57.52,234.99 L58.54,235.34 L59.56,235.69 L60.59,236.04 L61.61,236.38 L62.64,236.73 L63.66,237.07 L64.68,237.41 L65.71,237.75 L66.73,238.09 L67.76,238.43 L68.78,238.76 L69.81,239.09 L70.83,239.42 L71.85,239.74 L72.88,240.06 L73.90,240.38 L74.93,240.69 L75.95,241.00 L76.98,241.30 L78.00,241.60 L79.00,241.89 L80.00,242.18 L81.00,242.46 L82.00,242.75 L83.00,243.03 L84.00,243.31 L85.00,243.58 L86.00,243.86 L87.00,244.13 L88.00,244.40 L89.00,244.67 L90.00,244.93 L91.00,245.19 L92.00,245.45 L93.00,245.70 L94.00,245.96 L95.00,246.21 L96.00,246.45 L97.00,246.69 L98.00,246.93 L99.00,247.17 L100.00,247.40 L101.04,247.64 L102.08,247.87 L103.12,248.09 L104.17,248.31 L105.21,248.52 L106.25,248.73 L107.29,248.94 L108.33,249.15 L109.38,249.36 L110.42,249.57 L111.46,249.79 L112.50,250.00 L112.50,273.60 L111.46,273.12 L110.42,272.64 L109.38,272.17 L108.33,271.70 L107.29,271.22 L106.25,270.75 L105.21,270.27 L104.17,269.79 L103.12,269.31 L102.08,268.81 L101.04,268.31 L100.00,267.80 L99.00,267.30 L98.00,266.79 L97.00,266.28 L96.00,265.76 L95.00,265.24 L94.00,264.71 L93.00,264.17 L92.00,263.63 L91.00,263.08 L90.00,262.52 L89.00,261.96 L88.00,261.40 L87.00,260.82 L86.00,260.21 L85.00,259.58 L84.00,258.95 L83.00,258.32 L82.00,257.72 L81.00,257.14 L80.00,256.60 L79.00,256.09 L78.00,255.60 L77.00,255.12 L76.00,254.65 L75.00,254.21 L74.00,253.78 L73.00,253.38 L72.00,253.00 L71.00,252.64 L70.00,252.28 L69.00,251.94 L68.00,251.62 L67.00,251.31 L66.00,251.02 L65.00,250.75 L64.00,250.50 L62.96,250.26 L61.92,250.03 L60.87,249.81 L59.83,249.59 L58.79,249.39 L57.75,249.20 L56.71,249.01 L55.66,248.82 L54.62,248.65 L53.58,248.47 L52.54,248.30 L51.49,248.13 L50.45,247.96 L49.41,247.79 L48.37,247.62 L47.33,247.44 L46.28,247.27 L45.24,247.09 L44.20,246.90 Z" fill="#c83c2d" fill-opacity="0.3"/>
<path d="M112.60,345.90 L113.60,345.07 L114.60,344.24 L115.60,343.43 L116.60,342.62 L117.60,341.81 L118.60,341.01 L119.60,340.22 L120.60,339.44 L121.60,338.66 L122.60,337.89 L123.60,337.13 L124.60,336.37 L125.60,335.62 L126.60,334.88 L127.60,334.15 L128.60,333.42 L129.60,332.69 L130.60,331.98 L131.60,331.27 L132.60,330.57 L133.60,329.87 L134.60,329.18 L135.60,328.50 L136.60,327.82 L137.60,327.15 L138.60,326.49 L139.60,325.83 L140.60,325.18 L141.60,324.54 L142.60,323.90 L143.60,323.27 L144.60,322.65 L145.60,322.03 L146.60,321.42 L147.60,320.81 L148.60,320.21 L149.60,319.62 L150.60,319.03 L151.60,318.45 L152.60,317.88 L153.60,317.31 L154.60,316.75 L155.60,316.19 L156.60,315.64 L157.60,315.10 L158.60,314.56 L159.60,314.03 L160.60,313.50 L161.60,312.98 L162.60,312.47 L163.60,311.96 L164.60,311.46 L165.60,310.96 L166.60,310.47 L167.60,309.98 L168.60,309.50 L169.60,309.03 L170.60,308.56 L171.60,308.09 L172.60,307.63 L173.60,307.18 L174.60,306.73 L175.60,306.29 L176.60,305.85 L177.60,305.42 L178.60,304.99 L179.60,304.57 L180.60,304.15 L181.60,303.73 L182.60,303.32 L183.60,302.92 L184.60,302.52 L185.60,302.13 L186.60,301.74 L187.60,301.35 L188.60,300.97 L189.60,300.59 L190.60,300.22 L191.60,299.85 L192.60,299.49 L193.60,299.13 L194.60,298.77 L195.60,298.42 L196.60,298.07 L197.60,297.73 L198.60,297.39 L199.60,297.05 L200.60,296.72 L201.60,296.39 L202.60,296.06 L203.60,295.74 L204.60,295.42 L205.60,295.11 L206.60,294.79 L207.60,294.48 L208.60,294.18 L209.60,293.87 L210.60,293.57 L211.60,293.27 L212.60,292.98 L213.60,292.69 L214.60,292.40 L215.60,292.11 L216.60,291.82 L217.60,291.54 L218.60,291.26 L219.60,290.98 L220.60,290.70 L221.60,290.43 L222.60,290.15 L223.60,289.88 L224.60,289.61 L225.60,289.35 L226.60,289.08 L227.60,288.81 L228.60,288.55 L229.60,288.29 L230.60,288.03 L231.60,287.76 L232.60,287.50 L233.60,287.25 L234.60,286.99 L235.60,286.73 L236.60,286.47 L237.60,286.22 L238.60,285.96 L239.60,285.70 L240.60,285.45 L241.60,285.19 L242.60,284.94 L243.60,284.68 L244.30,284.50 L244.30,344.50 L243.30,344.51 L242.29,344.52 L241.29,344.53 L240.29,344.54 L239.28,344.55 L238.28,344.56 L237.28,344.57 L236.27,344.59 L235.27,344.60 L234.27,344.61 L233.26,344.62 L232.26,344.63 L231.26,344.64 L230.26,344.65 L229.25,344.66 L228.25,344.67 L227.25,344.68 L226.24,344.69 L225.24,344.70 L224.24,344.71 L223.23,344.72 L222.23,344.73 L221.23,344.74 L220.22,344.76 L219.22,344.77 L218.22,344.78 L217.21,344.79 L216.21,344.80 L215.21,344.81 L214.20,344.82 L213.20,344.83 L212.20,344.84 L211.19,344.85 L210.19,344.86 L209.19,344.87 L208.19,344.88 L207.18,344.89 L206.18,344.90 L205.18,344.91 L204.17,344.93 L203.17,344.94 L202.17,344.95 L201.16,344.96 L200.16,344.97 L199.16,344.98 L198.15,344.99 L197.15,345.00 L196.15,345.01 L195.14,345.02 L194.14,345.03 L193.14,345.04 L192.13,345.05 L191.13,345.06 L190.13,345.07 L189.12,345.08 L188.12,345.10 L187.12,345.11 L186.11,345.12 L185.11,345.13 L184.11,345.14 L183.11,345.15 L182.10,345.16 L181.10,345.17 L180.10,345.18 L179.09,345.19 L178.09,345.20 L177.09,345.21 L176.08,345.22 L175.08,345.23 L174.08,345.24 L173.07,345.25 L172.07,345.27 L171.07,345.28 L170.06,345.29 L169.06,345.30 L168.06,345.31 L167.05,345.32 L166.05,345.33 L165.05,345.34 L164.04,345.35 L163.04,345.36 L162.04,345.37 L161.04,345.38 L160.03,345.39 L159.03,345.40 L158.03,345.41 L157.02,345.43 L156.02,345.44 L155.02,345.45 L154.01,345.46 L153.01,345.47 L152.01,345.48 L151.00,345.49 L150.00,345.50 L148.99,345.51 L147.98,345.52 L146.97,345.53 L145.96,345.54 L144.95,345.55 L143.94,345.56 L142.92,345.58 L141.91,345.59 L140.90,345.60 L139.89,345.61 L138.88,345.62 L137.87,345.63 L136.86,345.64 L135.85,345.65 L134.84,345.66 L133.83,345.67 L132.82,345.68 L131.81,345.69 L130.79,345.71 L129.78,345.72 L128.77,345.73 L127.76,345.74 L126.75,345.75 L125.74,345.76 L124.73,345.77 L123.72,345.78 L122.71,345.79 L121.70,345.80 L120.69,345.81 L119.68,345.82 L118.66,345.84 L117.65,345.85 L116.64,345.86 L115.63,345.87 L114.62,345.88 L113.61,345.89 L112.60,345.90 Z" fill="#c83c2d" fill-opacity="0.3"/>
<path d="M44.20,229.20 L45.22,229.57 L46.25,229.95 L47.27,230.34 L48.30,230.73 L49.32,231.13 L50.35,231.54 L51.37,231.94 L52.39,232.35 L53.42,232.76 L54.44,233.18 L55.47,233.59 L56.49,234.00 L57.52,234.42 L58.54,234.83 L59.56,235.24 L60.59,235.64 L61.61,236.04 L62.64,236.44 L63.66,236.84 L64.68,237.22 L65.71,237.60 L66.73,237.98 L67.76,238.34 L68.78,238.70 L69.81,239.05 L70.83,239.39 L71.85,239.71 L72.88,240.03 L73.90,240.33 L74.93,240.62 L75.95,240.89 L76.98,241.15 L78.00,241.40 L79.00,241.63 L80.00,241.86 L81.00,242.08 L82.00,242.30 L83.00,242.51 L84.00,242.72 L85.00,242.93 L86.00,243.13 L87.00,243.32 L88.00,243.51 L89.00,243.70 L90.00,243.87 L91.00,244.05 L92.00,244.21 L93.00,244.37 L94.00,244.53 L95.00,244.67 L96.00,244.81 L97.00,244.95 L98.00,245.07 L99.00,245.19 L100.00,245.30 L101.04,245.41 L102.08,245.51 L103.12,245.60 L104.17,245.68 L105.21,245.76 L106.25,245.84 L107.29,245.92 L108.33,245.99 L109.38,246.07 L110.42,246.14 L111.46,246.22 L112.50,246.30 L112.50,276.00 L111.46,275.40 L110.42,274.80 L109.38,274.19 L108.33,273.59 L107.29,272.98 L106.25,272.38 L105.21,271.78 L104.17,271.18 L103.12,270.58 L102.08,269.98 L101.04,269.39 L100.00,268.80 L99.00,268.24 L98.00,267.69 L97.00,267.14 L96.00,266.59 L95.00,266.04 L94.00,265.50 L93.00,264.96 L92.00,264.41 L91.00,263.86 L90.00,263.31 L89.00,262.76 L88.00,262.20 L87.00,261.63 L86.00,261.04 L85.00,260.44 L84.00,259.84 L83.00,259.25 L82.00,258.68 L81.00,258.12 L80.00,257.60 L79.00,257.09 L78.00,256.59 L77.00,256.10 L76.00,255.62 L75.00,255.16 L74.00,254.73 L73.00,254.35 L72.00,254.00 L71.00,253.68 L70.00,253.36 L69.00,253.06 L68.00,252.77 L67.00,252.51 L66.00,252.30 L65.00,252.12 L64.00,252.00 L63.00,251.91 L62.00,251.83 L61.00,251.75 L60.00,251.69 L59.00,251.64 L58.00,251.61 L57.00,251.60 L55.93,251.60 L54.87,251.60 L53.80,251.60 L52.73,251.60 L51.67,251.60 L50.60,251.60 L49.53,251.60 L48.47,251.60 L47.40,251.60 L46.33,251.60 L45.27,251.60 L44.20,251.60 Z" fill="#0f78b9" fill-opacity="0.32"/>
<path d="M112.60,345.90 L113.60,345.42 L114.60,344.92 L115.60,344.41 L116.60,343.89 L117.60,343.34 L118.60,342.79 L119.60,342.21 L120.60,341.63 L121.60,341.03 L122.60,340.41 L123.60,339.78 L124.60,339.13 L125.60,338.47 L126.60,337.79 L127.60,337.10 L128.60,336.40 L129.60,335.68 L130.60,334.94 L131.60,334.19 L132.60,333.43 L133.60,332.65 L134.60,331.86 L135.60,331.06 L136.60,330.24 L137.60,329.41 L138.60,328.56 L139.60,327.70 L140.60,326.83 L141.60,325.95 L142.60,325.05 L143.60,324.14 L144.60,323.21 L145.60,322.28 L146.60,321.33 L147.60,320.36 L148.60,319.39 L149.60,318.40 L150.60,317.41 L151.60,316.40 L152.60,315.37 L153.60,314.34 L154.60,313.30 L155.60,312.24 L156.60,311.17 L157.60,310.10 L158.60,309.01 L159.60,307.91 L160.60,306.80 L161.60,305.68 L162.60,304.56 L163.60,303.42 L164.60,302.27 L165.60,301.11 L166.60,299.95 L167.60,298.77 L168.60,297.59 L169.60,296.40 L170.60,295.20 L171.60,293.99 L172.60,292.78 L173.60,291.56 L174.60,290.33 L175.60,289.09 L176.60,287.84 L177.60,286.59 L178.60,285.34 L179.60,284.08 L180.60,282.81 L181.60,281.53 L182.60,280.26 L183.60,278.97 L184.60,277.68 L185.60,276.39 L186.60,275.09 L187.60,273.79 L188.60,272.49 L189.60,271.18 L190.60,269.87 L191.60,268.56 L192.60,267.24 L193.60,265.92 L194.60,264.60 L195.60,263.28 L196.60,261.96 L197.60,260.63 L198.60,259.31 L199.60,257.99 L200.60,256.66 L201.60,255.34 L202.60,254.01 L203.60,252.69 L204.60,251.37 L205.60,250.05 L206.60,248.74 L207.60,247.42 L208.60,246.11 L209.60,244.80 L210.60,243.50 L211.60,242.20 L212.60,240.90 L213.60,239.61 L214.60,238.32 L215.60,237.04 L216.60,235.77 L217.60,234.50 L218.60,233.23 L219.60,231.98 L220.60,230.73 L221.60,229.49 L222.60,228.25 L223.60,227.03 L224.60,225.81 L225.60,224.61 L226.60,223.41 L227.60,222.22 L228.60,221.05 L229.60,219.88 L230.60,218.73 L231.60,217.59 L232.60,216.46 L233.60,215.34 L234.60,214.24 L235.60,213.14 L236.60,212.07 L237.60,211.01 L238.60,209.96 L239.60,208.93 L240.60,207.91 L241.60,206.91 L242.60,205.93 L243.60,204.97 L244.30,204.30 L244.30,328.20 L243.60,328.27 L242.60,328.38 L241.60,328.48 L240.60,328.59 L239.60,328.70 L238.60,328.82 L237.60,328.93 L236.60,329.05 L235.60,329.17 L234.60,329.29 L233.60,329.42 L232.60,329.54 L231.60,329.67 L230.60,329.80 L229.60,329.93 L228.60,330.06 L227.60,330.19 L226.60,330.32 L225.60,330.46 L224.60,330.59 L223.60,330.73 L222.60,330.87 L221.60,331.01 L220.60,331.15 L219.60,331.29 L218.60,331.43 L217.60,331.57 L216.60,331.71 L215.60,331.85 L214.60,331.99 L213.60,332.14 L212.60,332.28 L211.60,332.42 L210.60,332.57 L209.60,332.71 L208.60,332.86 L207.60,333.00 L206.60,333.14 L205.60,333.29 L204.60,333.43 L203.60,333.58 L202.60,333.72 L201.60,333.86 L200.60,334.01 L199.60,334.15 L198.60,334.29 L197.60,334.44 L196.60,334.58 L195.60,334.72 L194.60,334.86 L193.60,335.00 L192.60,335.15 L191.60,335.29 L190.60,335.43 L189.60,335.57 L188.60,335.70 L187.60,335.84 L186.60,335.98 L185.60,336.12 L184.60,336.26 L183.60,336.39 L182.60,336.53 L181.60,336.66 L180.60,336.80 L179.60,336.93 L178.60,337.06 L177.60,337.20 L176.60,337.33 L175.60,337.46 L174.60,337.59 L173.60,337.72 L172.60,337.85 L171.60,337.98 L170.60,338.11 L169.60,338.24 L168.60,338.37 L167.60,338.50 L166.60,338.62 L165.60,338.75 L164.60,338.88 L163.60,339.00 L162.60,339.13 L161.60,339.25 L160.60,339.38 L159.60,339.50 L158.60,339.63 L157.60,339.75 L156.60,339.88 L155.60,340.00 L154.60,340.12 L153.60,340.25 L152.60,340.37 L151.60,340.49 L150.60,340.62 L149.60,340.74 L148.60,340.86 L147.60,340.99 L146.60,341.11 L145.60,341.24 L144.60,341.36 L143.60,341.49 L142.60,341.61 L141.60,341.74 L140.60,341.86 L139.60,341.99 L138.60,342.12 L137.60,342.25 L136.60,342.37 L135.60,342.50 L134.60,342.64 L133.60,342.77 L132.60,342.90 L131.60,343.03 L130.60,343.17 L129.60,343.31 L128.60,343.44 L127.60,343.58 L126.60,343.72 L125.60,343.87 L124.60,344.01 L123.60,344.16 L122.60,344.30 L121.60,344.45 L120.60,344.60 L119.60,344.76 L118.60,344.91 L117.60,345.07 L116.60,345.23 L115.60,345.40 L114.60,345.56 L113.60,345.73 L112.60,345.90 Z" fill="#0f78b9" fill-opacity="0.32"/>
<circle cx="44.00" cy="239.91" r="2.2" fill="#000"/>
<circle cx="55.40" cy="246.14" r="2.2" fill="#000"/>
<circle cx="62.30" cy="246.14" r="2.2" fill="#000"/>
<circle cx="75.30" cy="246.14" r="2.2" fill="#000"/>
<circle cx="82.70" cy="264.84" r="2.2" fill="#000"/>
<circle cx="89.20" cy="252.38" r="2.2" fill="#000"/>
<circle cx="105.90" cy="264.84" r="2.2" fill="#000"/>
<circle cx="112.50" cy="264.84" r="2.2" fill="#000"/>
<line x1="112.50" y1="352.6" x2="112.50" y2="196.6" stroke="#111" stroke-width="1.1" stroke-dasharray="3.5 3.6"/>
<line x1="153.00" y1="196.6" x2="153.00" y2="352.6" stroke="#bfbfbf" stroke-width="1.8"/>
</g>
<rect x="34.1" y="196.6" width="219.9" height="156.00000000000003" fill="none" stroke="#8a8a8a" stroke-width="1.05"/>
<line x1="31.50" y1="333.40" x2="34.1" y2="333.40" stroke="#333" stroke-width="1"/>
<text x="29.50" y="337.60" class="tk" text-anchor="end">20</text>
<line x1="31.50" y1="302.24" x2="34.1" y2="302.24" stroke="#333" stroke-width="1"/>
<text x="29.50" y="306.44" class="tk" text-anchor="end">25</text>
<line x1="31.50" y1="271.07" x2="34.1" y2="271.07" stroke="#333" stroke-width="1"/>
<text x="29.50" y="275.27" class="tk" text-anchor="end">30</text>
<line x1="31.50" y1="239.91" x2="34.1" y2="239.91" stroke="#333" stroke-width="1"/>
<text x="29.50" y="244.11" class="tk" text-anchor="end">35</text>
<line x1="31.50" y1="208.75" x2="34.1" y2="208.75" stroke="#333" stroke-width="1"/>
<text x="29.50" y="212.95" class="tk" text-anchor="end">40</text>
<line x1="254.0" y1="345.90" x2="256.60" y2="345.90" stroke="#333" stroke-width="1"/>
<text x="258.60" y="350.10" class="tk">0</text>
<line x1="254.0" y1="329.01" x2="256.60" y2="329.01" stroke="#333" stroke-width="1"/>
<text x="258.60" y="333.21" class="tk">0.1</text>
<line x1="254.0" y1="312.12" x2="256.60" y2="312.12" stroke="#333" stroke-width="1"/>
<text x="258.60" y="316.32" class="tk">0.2</text>
<line x1="254.0" y1="295.23" x2="256.60" y2="295.23" stroke="#333" stroke-width="1"/>
<text x="258.60" y="299.43" class="tk">0.3</text>
<line x1="254.0" y1="278.34" x2="256.60" y2="278.34" stroke="#333" stroke-width="1"/>
<text x="258.60" y="282.54" class="tk">0.4</text>
<line x1="254.0" y1="261.45" x2="256.60" y2="261.45" stroke="#333" stroke-width="1"/>
<text x="258.60" y="265.65" class="tk">0.5</text>
<line x1="254.0" y1="244.56" x2="256.60" y2="244.56" stroke="#333" stroke-width="1"/>
<text x="258.60" y="248.76" class="tk">0.6</text>
<line x1="254.0" y1="227.67" x2="256.60" y2="227.67" stroke="#333" stroke-width="1"/>
<text x="258.60" y="231.87" class="tk">0.7</text>
<line x1="254.0" y1="210.78" x2="256.60" y2="210.78" stroke="#333" stroke-width="1"/>
<text x="258.60" y="214.98" class="tk">0.8</text>
<line x1="44.20" y1="352.6" x2="44.20" y2="355.20" stroke="#333" stroke-width="1"/>
<text x="44.20" y="365.50" class="tk" text-anchor="middle">0</text>
<line x1="84.20" y1="352.6" x2="84.20" y2="355.20" stroke="#333" stroke-width="1"/>
<text x="84.20" y="365.50" class="tk" text-anchor="middle">1</text>
<line x1="124.20" y1="352.6" x2="124.20" y2="355.20" stroke="#333" stroke-width="1"/>
<text x="124.20" y="365.50" class="tk" text-anchor="middle">2</text>
<line x1="164.20" y1="352.6" x2="164.20" y2="355.20" stroke="#333" stroke-width="1"/>
<text x="164.20" y="365.50" class="tk" text-anchor="middle">3</text>
<line x1="204.20" y1="352.6" x2="204.20" y2="355.20" stroke="#333" stroke-width="1"/>
<text x="204.20" y="365.50" class="tk" text-anchor="middle">4</text>
<line x1="244.20" y1="352.6" x2="244.20" y2="355.20" stroke="#333" stroke-width="1"/>
<text x="244.20" y="365.50" class="tk" text-anchor="middle">5</text>
<text x="144.05" y="379.90" class="ti" text-anchor="middle">Time (Years)</text>
<text transform="translate(10.6,274.60) rotate(-90)" class="ti" text-anchor="middle">Albumin (g/L)</text>
<clipPath id="cp3"><rect x="337.4" y="196.6" width="220.0" height="156.00000000000003"/></clipPath>
<rect x="337.4" y="196.6" width="220.0" height="156.00000000000003" fill="#fff"/>
<g clip-path="url(#cp3)">
<line x1="367.40" y1="196.6" x2="367.40" y2="352.6" stroke="#ebebeb" stroke-width="0.6"/>
<line x1="407.40" y1="196.6" x2="407.40" y2="352.6" stroke="#ebebeb" stroke-width="0.6"/>
<line x1="447.40" y1="196.6" x2="447.40" y2="352.6" stroke="#ebebeb" stroke-width="0.6"/>
<line x1="487.40" y1="196.6" x2="487.40" y2="352.6" stroke="#ebebeb" stroke-width="0.6"/>
<line x1="527.40" y1="196.6" x2="527.40" y2="352.6" stroke="#ebebeb" stroke-width="0.6"/>
<line x1="337.4" y1="348.75" x2="557.4" y2="348.75" stroke="#ebebeb" stroke-width="0.6"/>
<line x1="337.4" y1="322.25" x2="557.4" y2="322.25" stroke="#ebebeb" stroke-width="0.6"/>
<line x1="337.4" y1="295.75" x2="557.4" y2="295.75" stroke="#ebebeb" stroke-width="0.6"/>
<line x1="337.4" y1="269.25" x2="557.4" y2="269.25" stroke="#ebebeb" stroke-width="0.6"/>
<line x1="337.4" y1="242.75" x2="557.4" y2="242.75" stroke="#ebebeb" stroke-width="0.6"/>
<line x1="337.4" y1="216.25" x2="557.4" y2="216.25" stroke="#ebebeb" stroke-width="0.6"/>
<line x1="347.40" y1="196.6" x2="347.40" y2="352.6" stroke="#ebebeb" stroke-width="1.1"/>
<line x1="387.40" y1="196.6" x2="387.40" y2="352.6" stroke="#ebebeb" stroke-width="1.1"/>
<line x1="427.40" y1="196.6" x2="427.40" y2="352.6" stroke="#ebebeb" stroke-width="1.1"/>
<line x1="467.40" y1="196.6" x2="467.40" y2="352.6" stroke="#ebebeb" stroke-width="1.1"/>
<line x1="507.40" y1="196.6" x2="507.40" y2="352.6" stroke="#ebebeb" stroke-width="1.1"/>
<line x1="547.40" y1="196.6" x2="547.40" y2="352.6" stroke="#ebebeb" stroke-width="1.1"/>
<line x1="337.4" y1="335.50" x2="557.4" y2="335.50" stroke="#ebebeb" stroke-width="1.1"/>
<line x1="337.4" y1="309.00" x2="557.4" y2="309.00" stroke="#ebebeb" stroke-width="1.1"/>
<line x1="337.4" y1="282.50" x2="557.4" y2="282.50" stroke="#ebebeb" stroke-width="1.1"/>
<line x1="337.4" y1="256.00" x2="557.4" y2="256.00" stroke="#ebebeb" stroke-width="1.1"/>
<line x1="337.4" y1="229.50" x2="557.4" y2="229.50" stroke="#ebebeb" stroke-width="1.1"/>
<line x1="337.4" y1="203.00" x2="557.4" y2="203.00" stroke="#ebebeb" stroke-width="1.1"/>
<path d="M347.20,253.00 L348.25,253.43 L349.29,253.87 L350.34,254.32 L351.39,254.77 L352.44,255.22 L353.48,255.68 L354.53,256.13 L355.58,256.58 L356.62,257.03 L357.67,257.47 L358.72,257.91 L359.76,258.34 L360.81,258.75 L361.86,259.16 L362.91,259.56 L363.95,259.94 L365.00,260.30 L366.02,260.64 L367.05,260.97 L368.07,261.29 L369.10,261.60 L370.12,261.90 L371.15,262.19 L372.18,262.48 L373.20,262.76 L374.23,263.04 L375.25,263.32 L376.27,263.59 L377.30,263.87 L378.32,264.14 L379.35,264.42 L380.38,264.70 L381.40,264.99 L382.43,265.28 L383.45,265.58 L384.48,265.88 L385.50,266.20 L386.52,266.52 L387.55,266.85 L388.57,267.19 L389.60,267.52 L390.62,267.86 L391.64,268.21 L392.67,268.56 L393.69,268.91 L394.71,269.26 L395.74,269.62 L396.76,269.98 L397.79,270.34 L398.81,270.70 L399.83,271.06 L400.86,271.43 L401.88,271.79 L402.90,272.15 L403.93,272.52 L404.95,272.88 L405.98,273.24 L407.00,273.60 L408.01,273.95 L409.02,274.31 L410.03,274.67 L411.04,275.02 L412.05,275.38 L413.06,275.74 L414.07,276.10 L415.08,276.46 L416.09,276.82 L417.10,277.18 L418.11,277.55 L419.12,277.91 L420.13,278.27 L421.14,278.63 L422.15,278.99 L423.16,279.36 L424.17,279.72 L425.18,280.08 L426.19,280.44 L427.20,280.80" fill="none" stroke="#c83c2d" stroke-width="2.15" stroke-linejoin="round" stroke-linecap="butt"/>
<path d="M427.60,345.70 L428.60,345.34 L429.60,344.98 L430.60,344.62 L431.60,344.26 L432.60,343.89 L433.60,343.53 L434.60,343.17 L435.60,342.81 L436.60,342.45 L437.60,342.10 L438.60,341.74 L439.60,341.38 L440.60,341.02 L441.60,340.67 L442.60,340.31 L443.60,339.96 L444.60,339.60 L445.60,339.25 L446.60,338.90 L447.60,338.54 L448.60,338.19 L449.60,337.85 L450.60,337.50 L451.60,337.15 L452.60,336.81 L453.60,336.46 L454.60,336.12 L455.60,335.78 L456.60,335.44 L457.60,335.10 L458.60,334.77 L459.60,334.43 L460.60,334.10 L461.60,333.77 L462.60,333.44 L463.60,333.11 L464.60,332.78 L465.60,332.46 L466.60,332.14 L467.60,331.82 L468.60,331.50 L469.60,331.18 L470.60,330.87 L471.60,330.56 L472.60,330.25 L473.60,329.94 L474.60,329.64 L475.60,329.34 L476.60,329.04 L477.60,328.74 L478.60,328.45 L479.60,328.15 L480.60,327.86 L481.60,327.58 L482.60,327.29 L483.60,327.01 L484.60,326.73 L485.60,326.46 L486.60,326.18 L487.60,325.91 L488.60,325.65 L489.60,325.38 L490.60,325.12 L491.60,324.86 L492.60,324.61 L493.60,324.36 L494.60,324.11 L495.60,323.86 L496.60,323.62 L497.60,323.38 L498.60,323.15 L499.60,322.92 L500.60,322.69 L501.60,322.46 L502.60,322.24 L503.60,322.02 L504.60,321.81 L505.60,321.60 L506.60,321.39 L507.60,321.18 L508.60,320.98 L509.60,320.79 L510.60,320.60 L511.60,320.41 L512.60,320.22 L513.60,320.04 L514.60,319.86 L515.60,319.69 L516.60,319.52 L517.60,319.36 L518.60,319.19 L519.60,319.04 L520.60,318.88 L521.60,318.73 L522.60,318.59 L523.60,318.45 L524.60,318.31 L525.60,318.18 L526.60,318.05 L527.60,317.93 L528.60,317.81 L529.60,317.69 L530.60,317.58 L531.60,317.48 L532.60,317.38 L533.60,317.28 L534.60,317.19 L535.60,317.10 L536.60,317.01 L537.60,316.93 L538.60,316.86 L539.60,316.79 L540.60,316.72 L541.60,316.66 L542.60,316.61 L543.60,316.56 L544.60,316.51 L545.60,316.47 L546.60,316.43 L547.50,316.40" fill="none" stroke="#c83c2d" stroke-width="2.15" stroke-linejoin="round" stroke-linecap="butt"/>
<path d="M347.20,254.00 L348.25,254.43 L349.29,254.87 L350.34,255.32 L351.39,255.77 L352.44,256.22 L353.48,256.67 L354.53,257.12 L355.58,257.57 L356.62,258.01 L357.67,258.46 L358.72,258.89 L359.76,259.32 L360.81,259.74 L361.86,260.15 L362.91,260.55 L363.95,260.93 L365.00,261.30 L366.02,261.65 L367.05,261.99 L368.07,262.31 L369.10,262.63 L370.12,262.94 L371.15,263.24 L372.18,263.53 L373.20,263.83 L374.23,264.11 L375.25,264.40 L376.27,264.68 L377.30,264.97 L378.32,265.26 L379.35,265.54 L380.38,265.84 L381.40,266.14 L382.43,266.44 L383.45,266.75 L384.48,267.07 L385.50,267.40 L386.52,267.74 L387.55,268.08 L388.57,268.43 L389.60,268.79 L390.62,269.15 L391.64,269.51 L392.67,269.88 L393.69,270.25 L394.71,270.62 L395.74,271.00 L396.76,271.38 L397.79,271.76 L398.81,272.15 L399.83,272.53 L400.86,272.91 L401.88,273.30 L402.90,273.68 L403.93,274.06 L404.95,274.44 L405.98,274.82 L407.00,275.20 L408.01,275.57 L409.02,275.94 L410.03,276.32 L411.04,276.69 L412.05,277.06 L413.06,277.44 L414.07,277.81 L415.08,278.19 L416.09,278.56 L417.10,278.94 L418.11,279.32 L419.12,279.69 L420.13,280.07 L421.14,280.44 L422.15,280.82 L423.16,281.20 L424.17,281.57 L425.18,281.95 L426.19,282.32 L427.20,282.70" fill="none" stroke="#1471bb" stroke-width="2.15" stroke-linejoin="round" stroke-linecap="butt"/>
<path d="M427.60,345.70 L428.60,345.37 L429.60,345.03 L430.60,344.68 L431.60,344.31 L432.60,343.93 L433.60,343.54 L434.60,343.14 L435.60,342.73 L436.60,342.30 L437.60,341.86 L438.60,341.41 L439.60,340.95 L440.60,340.48 L441.60,340.00 L442.60,339.51 L443.60,339.01 L444.60,338.50 L445.60,337.98 L446.60,337.44 L447.60,336.90 L448.60,336.35 L449.60,335.79 L450.60,335.22 L451.60,334.65 L452.60,334.06 L453.60,333.46 L454.60,332.86 L455.60,332.25 L456.60,331.63 L457.60,331.00 L458.60,330.36 L459.60,329.72 L460.60,329.07 L461.60,328.41 L462.60,327.74 L463.60,327.07 L464.60,326.39 L465.60,325.70 L466.60,325.00 L467.60,324.30 L468.60,323.59 L469.60,322.88 L470.60,322.16 L471.60,321.43 L472.60,320.70 L473.60,319.96 L474.60,319.21 L475.60,318.46 L476.60,317.70 L477.60,316.93 L478.60,316.16 L479.60,315.39 L480.60,314.61 L481.60,313.82 L482.60,313.03 L483.60,312.23 L484.60,311.43 L485.60,310.62 L486.60,309.81 L487.60,308.99 L488.60,308.17 L489.60,307.34 L490.60,306.51 L491.60,305.67 L492.60,304.83 L493.60,303.98 L494.60,303.13 L495.60,302.28 L496.60,301.42 L497.60,300.55 L498.60,299.68 L499.60,298.81 L500.60,297.93 L501.60,297.04 L502.60,296.15 L503.60,295.26 L504.60,294.36 L505.60,293.46 L506.60,292.56 L507.60,291.65 L508.60,290.73 L509.60,289.81 L510.60,288.89 L511.60,287.96 L512.60,287.03 L513.60,286.09 L514.60,285.15 L515.60,284.21 L516.60,283.26 L517.60,282.30 L518.60,281.34 L519.60,280.38 L520.60,279.41 L521.60,278.44 L522.60,277.46 L523.60,276.48 L524.60,275.50 L525.60,274.50 L526.60,273.51 L527.60,272.51 L528.60,271.50 L529.60,270.49 L530.60,269.48 L531.60,268.46 L532.60,267.43 L533.60,266.40 L534.60,265.36 L535.60,264.32 L536.60,263.28 L537.60,262.22 L538.60,261.17 L539.60,260.10 L540.60,259.03 L541.60,257.96 L542.60,256.88 L543.60,255.79 L544.60,254.70 L545.60,253.60 L546.60,252.50 L547.50,251.50" fill="none" stroke="#1471bb" stroke-width="2.15" stroke-linejoin="round" stroke-linecap="butt"/>
<path d="M347.20,245.80 L348.21,246.17 L349.22,246.55 L350.22,246.94 L351.23,247.33 L352.24,247.74 L353.25,248.15 L354.26,248.56 L355.26,248.99 L356.27,249.41 L357.28,249.84 L358.29,250.27 L359.29,250.70 L360.30,251.14 L361.31,251.57 L362.32,252.00 L363.33,252.43 L364.33,252.86 L365.34,253.28 L366.35,253.70 L367.36,254.11 L368.37,254.52 L369.37,254.92 L370.38,255.31 L371.39,255.69 L372.40,256.06 L373.41,256.42 L374.41,256.77 L375.42,257.11 L376.43,257.43 L377.44,257.74 L378.44,258.04 L379.45,258.32 L380.46,258.58 L381.47,258.82 L382.48,259.05 L383.48,259.25 L384.49,259.44 L385.50,259.60 L386.52,259.75 L387.55,259.89 L388.57,260.03 L389.60,260.15 L390.62,260.27 L391.64,260.38 L392.67,260.49 L393.69,260.60 L394.71,260.69 L395.74,260.79 L396.76,260.88 L397.79,260.97 L398.81,261.06 L399.83,261.15 L400.86,261.24 L401.88,261.33 L402.90,261.42 L403.93,261.51 L404.95,261.60 L405.98,261.70 L407.00,261.80 L408.01,261.90 L409.02,262.00 L410.03,262.10 L411.04,262.20 L412.05,262.30 L413.06,262.40 L414.07,262.50 L415.08,262.60 L416.09,262.70 L417.10,262.80 L418.11,262.90 L419.12,263.00 L420.13,263.10 L421.14,263.20 L422.15,263.30 L423.16,263.40 L424.17,263.50 L425.18,263.60 L426.19,263.70 L427.20,263.80 L427.20,290.20 L426.19,289.75 L425.18,289.30 L424.17,288.84 L423.16,288.39 L422.15,287.94 L421.14,287.48 L420.13,287.03 L419.12,286.57 L418.11,286.12 L417.10,285.67 L416.09,285.21 L415.08,284.76 L414.07,284.31 L413.06,283.86 L412.05,283.41 L411.04,282.96 L410.03,282.52 L409.02,282.08 L408.01,281.64 L407.00,281.20 L405.98,280.76 L404.95,280.31 L403.93,279.86 L402.90,279.42 L401.88,278.97 L400.86,278.52 L399.83,278.07 L398.81,277.62 L397.79,277.18 L396.76,276.74 L395.74,276.30 L394.71,275.86 L393.69,275.43 L392.67,275.00 L391.64,274.58 L390.62,274.17 L389.60,273.76 L388.57,273.36 L387.55,272.96 L386.52,272.58 L385.50,272.20 L384.48,271.83 L383.45,271.45 L382.43,271.08 L381.40,270.71 L380.38,270.34 L379.35,269.97 L378.32,269.60 L377.30,269.25 L376.27,268.89 L375.25,268.54 L374.23,268.20 L373.20,267.87 L372.18,267.55 L371.15,267.23 L370.12,266.93 L369.10,266.64 L368.07,266.36 L367.05,266.09 L366.02,265.84 L365.00,265.60 L363.95,265.37 L362.91,265.15 L361.86,264.95 L360.81,264.75 L359.76,264.56 L358.72,264.37 L357.67,264.20 L356.62,264.02 L355.58,263.85 L354.53,263.69 L353.48,263.52 L352.44,263.36 L351.39,263.19 L350.34,263.02 L349.29,262.85 L348.25,262.68 L347.20,262.50 Z" fill="#c83c2d" fill-opacity="0.3"/>
<path d="M427.60,345.70 L428.60,344.48 L429.60,343.27 L430.60,342.05 L431.60,340.85 L432.60,339.64 L433.60,338.44 L434.60,337.25 L435.60,336.06 L436.60,334.88 L437.60,333.70 L438.60,332.53 L439.60,331.37 L440.60,330.21 L441.60,329.06 L442.60,327.92 L443.60,326.78 L444.60,325.65 L445.60,324.54 L446.60,323.43 L447.60,322.32 L448.60,321.23 L449.60,320.15 L450.60,319.07 L451.60,318.01 L452.60,316.95 L453.60,315.91 L454.60,314.87 L455.60,313.85 L456.60,312.84 L457.60,311.83 L458.60,310.84 L459.60,309.86 L460.60,308.89 L461.60,307.93 L462.60,306.98 L463.60,306.05 L464.60,305.12 L465.60,304.21 L466.60,303.31 L467.60,302.42 L468.60,301.55 L469.60,300.69 L470.60,299.83 L471.60,299.00 L472.60,298.17 L473.60,297.36 L474.60,296.56 L475.60,295.77 L476.60,294.99 L477.60,294.23 L478.60,293.48 L479.60,292.74 L480.60,292.02 L481.60,291.31 L482.60,290.61 L483.60,289.93 L484.60,289.26 L485.60,288.60 L486.60,287.95 L487.60,287.32 L488.60,286.70 L489.60,286.09 L490.60,285.49 L491.60,284.91 L492.60,284.34 L493.60,283.78 L494.60,283.24 L495.60,282.71 L496.60,282.19 L497.60,281.68 L498.60,281.18 L499.60,280.70 L500.60,280.23 L501.60,279.77 L502.60,279.32 L503.60,278.89 L504.60,278.46 L505.60,278.05 L506.60,277.65 L507.60,277.25 L508.60,276.87 L509.60,276.50 L510.60,276.14 L511.60,275.79 L512.60,275.45 L513.60,275.13 L514.60,274.81 L515.60,274.50 L516.60,274.19 L517.60,273.90 L518.60,273.62 L519.60,273.35 L520.60,273.08 L521.60,272.82 L522.60,272.57 L523.60,272.33 L524.60,272.09 L525.60,271.86 L526.60,271.64 L527.60,271.43 L528.60,271.22 L529.60,271.01 L530.60,270.82 L531.60,270.62 L532.60,270.44 L533.60,270.25 L534.60,270.07 L535.60,269.90 L536.60,269.73 L537.60,269.56 L538.60,269.39 L539.60,269.23 L540.60,269.07 L541.60,268.91 L542.60,268.75 L543.60,268.60 L544.60,268.44 L545.60,268.28 L546.60,268.12 L547.50,267.98 L547.50,345.30 L546.49,345.30 L545.48,345.31 L544.47,345.31 L543.47,345.31 L542.46,345.31 L541.45,345.32 L540.44,345.32 L539.43,345.32 L538.42,345.32 L537.42,345.33 L536.41,345.33 L535.40,345.33 L534.39,345.33 L533.38,345.34 L532.37,345.34 L531.36,345.34 L530.36,345.34 L529.35,345.35 L528.34,345.35 L527.33,345.35 L526.32,345.35 L525.31,345.36 L524.30,345.36 L523.30,345.36 L522.29,345.36 L521.28,345.36 L520.27,345.37 L519.26,345.37 L518.25,345.37 L517.25,345.37 L516.24,345.38 L515.23,345.38 L514.22,345.38 L513.21,345.38 L512.20,345.38 L511.19,345.39 L510.19,345.39 L509.18,345.39 L508.17,345.39 L507.16,345.40 L506.15,345.40 L505.14,345.40 L504.13,345.40 L503.13,345.40 L502.12,345.41 L501.11,345.41 L500.10,345.41 L499.09,345.41 L498.08,345.42 L497.08,345.42 L496.07,345.42 L495.06,345.42 L494.05,345.42 L493.04,345.43 L492.03,345.43 L491.02,345.43 L490.02,345.43 L489.01,345.44 L488.00,345.44 L486.99,345.44 L485.98,345.44 L484.97,345.45 L483.97,345.45 L482.96,345.45 L481.95,345.45 L480.94,345.46 L479.93,345.46 L478.92,345.46 L477.91,345.47 L476.91,345.47 L475.90,345.47 L474.89,345.47 L473.88,345.48 L472.87,345.48 L471.86,345.48 L470.85,345.49 L469.85,345.49 L468.84,345.49 L467.83,345.50 L466.82,345.50 L465.81,345.50 L464.80,345.50 L463.80,345.51 L462.79,345.51 L461.78,345.52 L460.77,345.52 L459.76,345.52 L458.75,345.53 L457.74,345.53 L456.74,345.53 L455.73,345.54 L454.72,345.54 L453.71,345.54 L452.70,345.55 L451.69,345.55 L450.68,345.56 L449.68,345.56 L448.67,345.56 L447.66,345.57 L446.65,345.57 L445.64,345.58 L444.63,345.58 L443.63,345.59 L442.62,345.59 L441.61,345.60 L440.60,345.60 L439.60,345.61 L438.60,345.61 L437.60,345.62 L436.60,345.62 L435.60,345.63 L434.60,345.64 L433.60,345.65 L432.60,345.66 L431.60,345.67 L430.60,345.68 L429.60,345.68 L428.60,345.69 L427.60,345.70 Z" fill="#c83c2d" fill-opacity="0.3"/>
<path d="M347.20,247.90 L348.25,248.22 L349.29,248.54 L350.34,248.85 L351.39,249.16 L352.44,249.47 L353.48,249.78 L354.53,250.09 L355.58,250.40 L356.62,250.71 L357.67,251.03 L358.72,251.35 L359.76,251.67 L360.81,252.00 L361.86,252.34 L362.91,252.68 L363.95,253.04 L365.00,253.40 L366.02,253.77 L367.05,254.16 L368.07,254.58 L369.10,255.00 L370.12,255.45 L371.15,255.90 L372.18,256.36 L373.20,256.82 L374.23,257.29 L375.25,257.76 L376.27,258.22 L377.30,258.68 L378.32,259.13 L379.35,259.57 L380.38,259.99 L381.40,260.40 L382.43,260.78 L383.45,261.15 L384.48,261.49 L385.50,261.80 L386.52,262.09 L387.55,262.36 L388.57,262.62 L389.60,262.87 L390.62,263.11 L391.64,263.33 L392.67,263.55 L393.69,263.76 L394.71,263.97 L395.74,264.18 L396.76,264.38 L397.79,264.58 L398.81,264.78 L399.83,264.99 L400.86,265.19 L401.88,265.41 L402.90,265.63 L403.93,265.85 L404.95,266.09 L405.98,266.34 L407.00,266.60 L408.01,266.87 L409.02,267.15 L410.03,267.43 L411.04,267.73 L412.05,268.03 L413.06,268.34 L414.07,268.65 L415.08,268.97 L416.09,269.29 L417.10,269.62 L418.11,269.95 L419.12,270.28 L420.13,270.61 L421.14,270.94 L422.15,271.28 L423.16,271.61 L424.17,271.94 L425.18,272.26 L426.19,272.58 L427.20,272.90 L427.20,297.20 L426.19,296.77 L425.18,296.33 L424.17,295.90 L423.16,295.47 L422.15,295.04 L421.14,294.61 L420.13,294.18 L419.12,293.75 L418.11,293.32 L417.10,292.89 L416.09,292.46 L415.08,292.03 L414.07,291.59 L413.06,291.16 L412.05,290.72 L411.04,290.28 L410.03,289.84 L409.02,289.40 L408.01,288.95 L407.00,288.50 L405.98,288.04 L404.95,287.57 L403.93,287.09 L402.90,286.61 L401.88,286.12 L400.86,285.63 L399.83,285.14 L398.81,284.64 L397.79,284.14 L396.76,283.65 L395.74,283.15 L394.71,282.66 L393.69,282.17 L392.67,281.68 L391.64,281.20 L390.62,280.73 L389.60,280.27 L388.57,279.81 L387.55,279.36 L386.52,278.93 L385.50,278.50 L384.48,278.08 L383.45,277.67 L382.43,277.27 L381.40,276.87 L380.38,276.48 L379.35,276.10 L378.32,275.71 L377.30,275.34 L376.27,274.96 L375.25,274.59 L374.23,274.22 L373.20,273.86 L372.18,273.50 L371.15,273.14 L370.12,272.78 L369.10,272.42 L368.07,272.07 L367.05,271.71 L366.02,271.36 L365.00,271.00 L363.95,270.64 L362.91,270.28 L361.86,269.92 L360.81,269.57 L359.76,269.22 L358.72,268.88 L357.67,268.53 L356.62,268.19 L355.58,267.84 L354.53,267.50 L353.48,267.16 L352.44,266.82 L351.39,266.48 L350.34,266.13 L349.29,265.79 L348.25,265.45 L347.20,265.10 Z" fill="#0f78b9" fill-opacity="0.32"/>
<path d="M427.60,345.70 L428.60,344.69 L429.60,343.71 L430.60,342.76 L431.60,341.83 L432.60,340.92 L433.60,340.03 L434.60,339.14 L435.60,338.27 L436.60,337.39 L437.60,336.52 L438.60,335.65 L439.60,334.77 L440.60,333.89 L441.60,332.99 L442.60,332.08 L443.60,331.16 L444.60,330.22 L445.60,329.26 L446.60,328.28 L447.60,327.28 L448.60,326.25 L449.60,325.20 L450.60,324.13 L451.60,323.03 L452.60,321.90 L453.60,320.74 L454.60,319.55 L455.60,318.33 L456.60,317.09 L457.60,315.81 L458.60,314.50 L459.60,313.16 L460.60,311.79 L461.60,310.39 L462.60,308.96 L463.60,307.51 L464.60,306.02 L465.60,304.50 L466.60,302.96 L467.60,301.39 L468.60,299.79 L469.60,298.16 L470.60,296.52 L471.60,294.84 L472.60,293.15 L473.60,291.43 L474.60,289.70 L475.60,287.95 L476.60,286.17 L477.60,284.39 L478.60,282.58 L479.60,280.77 L480.60,278.94 L481.60,277.10 L482.60,275.26 L483.60,273.40 L484.60,271.55 L485.60,269.68 L486.60,267.82 L487.60,265.96 L488.60,264.09 L489.60,262.24 L490.60,260.38 L491.60,258.53 L492.60,256.69 L493.60,254.87 L494.60,253.05 L495.60,251.25 L496.60,249.46 L497.60,247.69 L498.60,245.93 L499.60,244.20 L500.60,242.49 L501.60,240.81 L502.60,239.15 L503.60,237.51 L504.60,235.91 L505.60,234.33 L506.60,232.79 L507.60,231.28 L508.60,229.80 L509.60,228.36 L510.60,226.95 L511.60,225.58 L512.60,224.25 L513.60,222.96 L514.60,221.71 L515.60,220.50 L516.60,219.33 L517.60,218.21 L518.60,217.13 L519.60,216.09 L520.60,215.10 L521.60,214.15 L522.60,213.25 L523.60,212.39 L524.60,211.58 L525.60,210.82 L526.60,210.09 L527.60,209.42 L528.60,208.79 L529.60,208.20 L530.60,207.65 L531.60,207.15 L532.60,206.69 L533.60,206.27 L534.60,205.89 L535.60,205.54 L536.60,205.24 L537.60,204.97 L538.60,204.73 L539.60,204.52 L540.60,204.34 L541.60,204.19 L542.60,204.06 L543.60,203.96 L544.60,203.87 L545.60,203.80 L546.60,203.75 L547.50,203.71 L547.50,296.60 L546.60,297.32 L545.60,298.10 L544.60,298.87 L543.60,299.62 L542.60,300.37 L541.60,301.10 L540.60,301.82 L539.60,302.54 L538.60,303.24 L537.60,303.93 L536.60,304.61 L535.60,305.28 L534.60,305.94 L533.60,306.59 L532.60,307.23 L531.60,307.86 L530.60,308.48 L529.60,309.10 L528.60,309.70 L527.60,310.30 L526.60,310.89 L525.60,311.47 L524.60,312.04 L523.60,312.60 L522.60,313.16 L521.60,313.71 L520.60,314.25 L519.60,314.79 L518.60,315.31 L517.60,315.83 L516.60,316.35 L515.60,316.86 L514.60,317.36 L513.60,317.85 L512.60,318.34 L511.60,318.83 L510.60,319.30 L509.60,319.78 L508.60,320.24 L507.60,320.70 L506.60,321.16 L505.60,321.61 L504.60,322.06 L503.60,322.50 L502.60,322.93 L501.60,323.36 L500.60,323.79 L499.60,324.21 L498.60,324.63 L497.60,325.04 L496.60,325.45 L495.60,325.86 L494.60,326.26 L493.60,326.66 L492.60,327.05 L491.60,327.44 L490.60,327.83 L489.60,328.21 L488.60,328.59 L487.60,328.96 L486.60,329.33 L485.60,329.70 L484.60,330.07 L483.60,330.43 L482.60,330.79 L481.60,331.14 L480.60,331.50 L479.60,331.85 L478.60,332.19 L477.60,332.54 L476.60,332.88 L475.60,333.21 L474.60,333.55 L473.60,333.88 L472.60,334.21 L471.60,334.53 L470.60,334.86 L469.60,335.18 L468.60,335.49 L467.60,335.81 L466.60,336.12 L465.60,336.43 L464.60,336.73 L463.60,337.04 L462.60,337.34 L461.60,337.63 L460.60,337.93 L459.60,338.22 L458.60,338.51 L457.60,338.79 L456.60,339.07 L455.60,339.35 L454.60,339.63 L453.60,339.90 L452.60,340.17 L451.60,340.44 L450.60,340.70 L449.60,340.96 L448.60,341.22 L447.60,341.47 L446.60,341.72 L445.60,341.97 L444.60,342.21 L443.60,342.45 L442.60,342.68 L441.60,342.92 L440.60,343.14 L439.60,343.37 L438.60,343.59 L437.60,343.80 L436.60,344.01 L435.60,344.22 L434.60,344.42 L433.60,344.62 L432.60,344.81 L431.60,345.00 L430.60,345.18 L429.60,345.36 L428.60,345.53 L427.60,345.70 Z" fill="#0f78b9" fill-opacity="0.32"/>
<circle cx="347.30" cy="256.00" r="2.2" fill="#000"/>
<circle cx="358.90" cy="261.30" r="2.2" fill="#000"/>
<circle cx="365.70" cy="261.30" r="2.2" fill="#000"/>
<circle cx="378.70" cy="261.30" r="2.2" fill="#000"/>
<circle cx="385.50" cy="277.20" r="2.2" fill="#000"/>
<circle cx="392.30" cy="266.60" r="2.2" fill="#000"/>
<circle cx="408.70" cy="277.20" r="2.2" fill="#000"/>
<circle cx="415.50" cy="277.20" r="2.2" fill="#000"/>
<circle cx="427.30" cy="298.40" r="2.2" fill="#000"/>
<line x1="427.30" y1="352.6" x2="427.30" y2="196.6" stroke="#111" stroke-width="1.1" stroke-dasharray="3.5 3.6"/>
<line x1="456.00" y1="196.6" x2="456.00" y2="352.6" stroke="#bfbfbf" stroke-width="1.8"/>
</g>
<rect x="337.4" y="196.6" width="220.0" height="156.00000000000003" fill="none" stroke="#8a8a8a" stroke-width="1.05"/>
<line x1="334.80" y1="335.50" x2="337.4" y2="335.50" stroke="#333" stroke-width="1"/>
<text x="332.80" y="339.70" class="tk" text-anchor="end">20</text>
<line x1="334.80" y1="309.00" x2="337.4" y2="309.00" stroke="#333" stroke-width="1"/>
<text x="332.80" y="313.20" class="tk" text-anchor="end">25</text>
<line x1="334.80" y1="282.50" x2="337.4" y2="282.50" stroke="#333" stroke-width="1"/>
<text x="332.80" y="286.70" class="tk" text-anchor="end">30</text>
<line x1="334.80" y1="256.00" x2="337.4" y2="256.00" stroke="#333" stroke-width="1"/>
<text x="332.80" y="260.20" class="tk" text-anchor="end">35</text>
<line x1="334.80" y1="229.50" x2="337.4" y2="229.50" stroke="#333" stroke-width="1"/>
<text x="332.80" y="233.70" class="tk" text-anchor="end">40</text>
<line x1="334.80" y1="203.00" x2="337.4" y2="203.00" stroke="#333" stroke-width="1"/>
<text x="332.80" y="207.20" class="tk" text-anchor="end">45</text>
<line x1="557.4" y1="346.10" x2="560.00" y2="346.10" stroke="#333" stroke-width="1"/>
<text x="562.00" y="350.30" class="tk">0</text>
<line x1="557.4" y1="331.79" x2="560.00" y2="331.79" stroke="#333" stroke-width="1"/>
<text x="562.00" y="335.99" class="tk">0.1</text>
<line x1="557.4" y1="317.48" x2="560.00" y2="317.48" stroke="#333" stroke-width="1"/>
<text x="562.00" y="321.68" class="tk">0.2</text>
<line x1="557.4" y1="303.17" x2="560.00" y2="303.17" stroke="#333" stroke-width="1"/>
<text x="562.00" y="307.37" class="tk">0.3</text>
<line x1="557.4" y1="288.86" x2="560.00" y2="288.86" stroke="#333" stroke-width="1"/>
<text x="562.00" y="293.06" class="tk">0.4</text>
<line x1="557.4" y1="274.55" x2="560.00" y2="274.55" stroke="#333" stroke-width="1"/>
<text x="562.00" y="278.75" class="tk">0.5</text>
<line x1="557.4" y1="260.24" x2="560.00" y2="260.24" stroke="#333" stroke-width="1"/>
<text x="562.00" y="264.44" class="tk">0.6</text>
<line x1="557.4" y1="245.93" x2="560.00" y2="245.93" stroke="#333" stroke-width="1"/>
<text x="562.00" y="250.13" class="tk">0.7</text>
<line x1="557.4" y1="231.62" x2="560.00" y2="231.62" stroke="#333" stroke-width="1"/>
<text x="562.00" y="235.82" class="tk">0.8</text>
<line x1="557.4" y1="217.31" x2="560.00" y2="217.31" stroke="#333" stroke-width="1"/>
<text x="562.00" y="221.51" class="tk">0.9</text>
<line x1="557.4" y1="203.00" x2="560.00" y2="203.00" stroke="#333" stroke-width="1"/>
<text x="562.00" y="207.20" class="tk">1</text>
<line x1="347.40" y1="352.6" x2="347.40" y2="355.20" stroke="#333" stroke-width="1"/>
<text x="347.40" y="365.50" class="tk" text-anchor="middle">0</text>
<line x1="387.40" y1="352.6" x2="387.40" y2="355.20" stroke="#333" stroke-width="1"/>
<text x="387.40" y="365.50" class="tk" text-anchor="middle">1</text>
<line x1="427.40" y1="352.6" x2="427.40" y2="355.20" stroke="#333" stroke-width="1"/>
<text x="427.40" y="365.50" class="tk" text-anchor="middle">2</text>
<line x1="467.40" y1="352.6" x2="467.40" y2="355.20" stroke="#333" stroke-width="1"/>
<text x="467.40" y="365.50" class="tk" text-anchor="middle">3</text>
<line x1="507.40" y1="352.6" x2="507.40" y2="355.20" stroke="#333" stroke-width="1"/>
<text x="507.40" y="365.50" class="tk" text-anchor="middle">4</text>
<line x1="547.40" y1="352.6" x2="547.40" y2="355.20" stroke="#333" stroke-width="1"/>
<text x="547.40" y="365.50" class="tk" text-anchor="middle">5</text>
<text x="447.40" y="379.90" class="ti" text-anchor="middle">Time (Years)</text>
<text transform="translate(586.7,274.60) rotate(90)" class="ti" text-anchor="middle">Cumulative Risk (Death)</text>

<text x="608.8" y="178.8" class="lt">Model</text>
<rect x="608.8" y="186.2" width="13.6" height="13.6" fill="#d48a80"/>
<line x1="609.6" y1="193.0" x2="621.6" y2="193.0" stroke="#c83c2d" stroke-width="2"/>
<rect x="608.8" y="200.9" width="13.6" height="13.5" fill="#70aad5"/>
<line x1="609.6" y1="207.6" x2="621.6" y2="207.6" stroke="#1471bb" stroke-width="2"/>
<text x="628.6" y="196.2" class="ll">CR adjusted</text>
<text x="628.6" y="210.6" class="ll">CR ignored</text>

</svg>
</body></html>
